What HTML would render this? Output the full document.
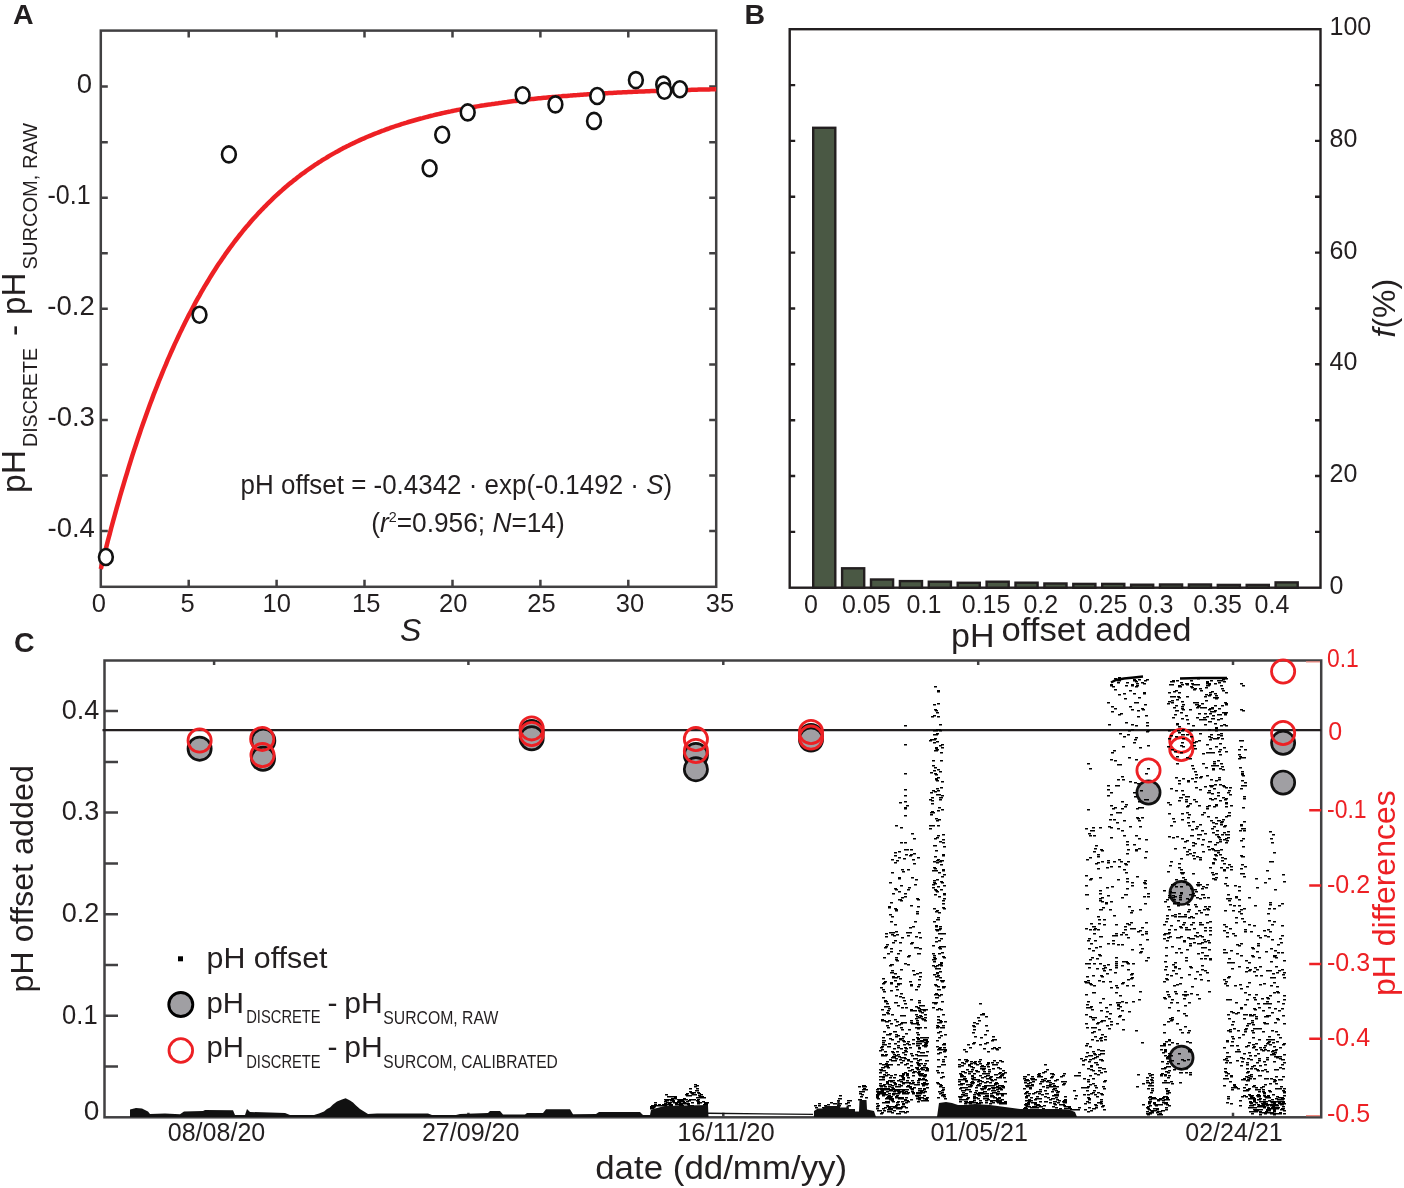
<!DOCTYPE html>
<html><head><meta charset="utf-8"><style>
html,body{margin:0;padding:0;background:#fff;}
svg{display:block;will-change:transform;}
text{font-family:"Liberation Sans", sans-serif;}
</style></head><body>
<svg width="1404" height="1188" viewBox="0 0 1404 1188">
<rect width="1404" height="1188" fill="#fff"/>
<g stroke="#414042" stroke-width="2.5" fill="none">
<rect x="100.8" y="30.6" width="615.4" height="556.2"/>
<path d="M188.7 586.8v-7M188.7 30.6v7M276.6 586.8v-7M276.6 30.6v7M364.5 586.8v-7M364.5 30.6v7M452.5 586.8v-7M452.5 30.6v7M540.4 586.8v-7M540.4 30.6v7M628.3 586.8v-7M628.3 30.6v7M100.8 86.6h7M716.2 86.6h-7M100.8 142.2h7M716.2 142.2h-7M100.8 197.7h7M716.2 197.7h-7M100.8 253.3h7M716.2 253.3h-7M100.8 308.8h7M716.2 308.8h-7M100.8 364.4h7M716.2 364.4h-7M100.8 419.9h7M716.2 419.9h-7M100.8 475.5h7M716.2 475.5h-7M100.8 531.0h7M716.2 531.0h-7"/>
</g>
<polyline points="100.8,569.0 102.6,561.9 104.3,554.8 106.1,547.9 107.8,541.0 109.6,534.3 111.3,527.7 113.1,521.2 114.9,514.7 116.6,508.4 118.4,502.1 120.1,496.0 121.9,489.9 123.7,483.9 125.4,478.1 127.2,472.3 128.9,466.6 130.7,460.9 132.4,455.4 134.2,449.9 136.0,444.5 137.7,439.2 139.5,434.0 141.2,428.9 143.0,423.8 144.8,418.8 146.5,413.9 148.3,409.0 150.0,404.3 151.8,399.6 153.5,394.9 155.3,390.4 157.1,385.9 158.8,381.4 160.6,377.1 162.3,372.8 164.1,368.5 165.9,364.4 167.6,360.2 169.4,356.2 171.1,352.2 172.9,348.3 174.6,344.4 176.4,340.6 178.2,336.8 179.9,333.1 181.7,329.5 183.4,325.9 185.2,322.3 187.0,318.8 188.7,315.4 190.5,312.0 192.2,308.7 194.0,305.4 195.7,302.1 197.5,298.9 199.3,295.8 201.0,292.7 202.8,289.6 204.5,286.6 206.3,283.7 208.1,280.8 209.8,277.9 211.6,275.0 213.3,272.3 215.1,269.5 216.8,266.8 218.6,264.1 220.4,261.5 222.1,258.9 223.9,256.4 225.6,253.8 227.4,251.4 229.2,248.9 230.9,246.5 232.7,244.2 234.4,241.8 236.2,239.5 237.9,237.3 239.7,235.0 241.5,232.8 243.2,230.7 245.0,228.5 246.7,226.4 248.5,224.4 250.3,222.3 252.0,220.3 253.8,218.3 255.5,216.4 257.3,214.5 259.0,212.6 260.8,210.7 262.6,208.9 264.3,207.0 266.1,205.3 267.8,203.5 269.6,201.8 271.4,200.1 273.1,198.4 274.9,196.7 276.6,195.1 278.4,193.5 280.1,191.9 281.9,190.4 283.7,188.8 285.4,187.3 287.2,185.8 288.9,184.3 290.7,182.9 292.5,181.5 294.2,180.1 296.0,178.7 297.7,177.3 299.5,176.0 301.2,174.6 303.0,173.3 304.8,172.1 306.5,170.8 308.3,169.5 310.0,168.3 311.8,167.1 313.6,165.9 315.3,164.7 317.1,163.6 318.8,162.4 320.6,161.3 322.3,160.2 324.1,159.1 325.9,158.1 327.6,157.0 329.4,155.9 331.1,154.9 332.9,153.9 334.7,152.9 336.4,151.9 338.2,151.0 339.9,150.0 341.7,149.1 343.4,148.1 345.2,147.2 347.0,146.3 348.7,145.5 350.5,144.6 352.2,143.7 354.0,142.9 355.8,142.0 357.5,141.2 359.3,140.4 361.0,139.6 362.8,138.8 364.5,138.1 366.3,137.3 368.1,136.5 369.8,135.8 371.6,135.1 373.3,134.4 375.1,133.7 376.9,133.0 378.6,132.3 380.4,131.6 382.1,130.9 383.9,130.3 385.6,129.6 387.4,129.0 389.2,128.4 390.9,127.7 392.7,127.1 394.4,126.5 396.2,125.9 398.0,125.4 399.7,124.8 401.5,124.2 403.2,123.7 405.0,123.1 406.7,122.6 408.5,122.0 410.3,121.5 412.0,121.0 413.8,120.5 415.5,120.0 417.3,119.5 419.0,119.0 420.8,118.5 422.6,118.1 424.3,117.6 426.1,117.1 427.8,116.7 429.6,116.2 431.4,115.8 433.1,115.4 434.9,114.9 436.6,114.5 438.4,114.1 440.1,113.7 441.9,113.3 443.7,112.9 445.4,112.5 447.2,112.1 448.9,111.7 450.7,111.4 452.5,111.0 454.2,110.6 456.0,110.3 457.7,109.9 459.5,109.6 461.2,109.3 463.0,108.9 464.8,108.6 466.5,108.3 468.3,107.9 470.0,107.6 471.8,107.3 473.6,107.0 475.3,106.7 477.1,106.4 478.8,106.1 480.6,105.8 482.3,105.5 484.1,105.3 485.9,105.0 487.6,104.7 489.4,104.4 491.1,104.2 492.9,103.9 494.7,103.7 496.4,103.4 498.2,103.2 499.9,102.9 501.7,102.7 503.4,102.4 505.2,102.2 507.0,102.0 508.7,101.7 510.5,101.5 512.2,101.3 514.0,101.1 515.8,100.9 517.5,100.7 519.3,100.4 521.0,100.2 522.8,100.0 524.5,99.8 526.3,99.6 528.1,99.4 529.8,99.3 531.6,99.1 533.3,98.9 535.1,98.7 536.9,98.5 538.6,98.3 540.4,98.2 542.1,98.0 543.9,97.8 545.6,97.7 547.4,97.5 549.2,97.3 550.9,97.2 552.7,97.0 554.4,96.9 556.2,96.7 558.0,96.6 559.7,96.4 561.5,96.3 563.2,96.1 565.0,96.0 566.7,95.9 568.5,95.7 570.3,95.6 572.0,95.4 573.8,95.3 575.5,95.2 577.3,95.1 579.1,94.9 580.8,94.8 582.6,94.7 584.3,94.6 586.1,94.5 587.8,94.3 589.6,94.2 591.4,94.1 593.1,94.0 594.9,93.9 596.6,93.8 598.4,93.7 600.2,93.6 601.9,93.5 603.7,93.4 605.4,93.3 607.2,93.2 608.9,93.1 610.7,93.0 612.5,92.9 614.2,92.8 616.0,92.7 617.7,92.6 619.5,92.5 621.3,92.4 623.0,92.3 624.8,92.3 626.5,92.2 628.3,92.1 630.0,92.0 631.8,91.9 633.6,91.8 635.3,91.8 637.1,91.7 638.8,91.6 640.6,91.5 642.4,91.5 644.1,91.4 645.9,91.3 647.6,91.3 649.4,91.2 651.1,91.1 652.9,91.1 654.7,91.0 656.4,90.9 658.2,90.9 659.9,90.8 661.7,90.7 663.5,90.7 665.2,90.6 667.0,90.6 668.7,90.5 670.5,90.4 672.2,90.4 674.0,90.3 675.8,90.3 677.5,90.2 679.3,90.2 681.0,90.1 682.8,90.1 684.6,90.0 686.3,90.0 688.1,89.9 689.8,89.9 691.6,89.8 693.3,89.8 695.1,89.7 696.9,89.7 698.6,89.6 700.4,89.6 702.1,89.5 703.9,89.5 705.7,89.4 707.4,89.4 709.2,89.4 710.9,89.3 712.7,89.3 714.4,89.2 716.2,89.2" fill="none" stroke="#ed2024" stroke-width="4.5"/>
<g fill="#fff" stroke="#111" stroke-width="2.6">
<ellipse cx="105.9" cy="557" rx="6.9" ry="8.0"/>
<ellipse cx="199.5" cy="314.8" rx="6.9" ry="8.0"/>
<ellipse cx="228.9" cy="154.4" rx="6.9" ry="8.0"/>
<ellipse cx="429.6" cy="168.3" rx="6.9" ry="8.0"/>
<ellipse cx="442.2" cy="134.8" rx="6.9" ry="8.0"/>
<ellipse cx="467.7" cy="112.4" rx="6.9" ry="8.0"/>
<ellipse cx="522.6" cy="95.3" rx="6.9" ry="8.0"/>
<ellipse cx="555.4" cy="104.4" rx="6.9" ry="8.0"/>
<ellipse cx="594" cy="120.9" rx="6.9" ry="8.0"/>
<ellipse cx="597.2" cy="96" rx="6.9" ry="8.0"/>
<ellipse cx="635.9" cy="80.1" rx="6.9" ry="8.0"/>
<ellipse cx="663.2" cy="84.6" rx="6.9" ry="8.0"/>
<ellipse cx="664.4" cy="90.8" rx="6.9" ry="8.0"/>
<ellipse cx="679.9" cy="89.2" rx="6.9" ry="8.0"/>
</g>
<g font-family='"Liberation Sans", sans-serif' fill="#231f20">
<text x="13" y="23.7" font-size="28.5" font-weight="bold" >A</text>
<text x="92.0" y="92.8" font-size="27.5" text-anchor="end" >0</text>
<text x="90.6" y="203.9" font-size="27.5" text-anchor="end" textLength="43.2" lengthAdjust="spacingAndGlyphs" >-0.1</text>
<text x="94.7" y="315.0" font-size="27.5" text-anchor="end" >-0.2</text>
<text x="94.9" y="426.1" font-size="27.5" text-anchor="end" >-0.3</text>
<text x="94.9" y="537.2" font-size="27.5" text-anchor="end" >-0.4</text>
<text x="98.9" y="612" font-size="25.5" text-anchor="middle" >0</text>
<text x="187.6" y="612" font-size="25.5" text-anchor="middle" >5</text>
<text x="276.8" y="612" font-size="25.5" text-anchor="middle" >10</text>
<text x="366.2" y="612" font-size="25.5" text-anchor="middle" >15</text>
<text x="453.2" y="612" font-size="25.5" text-anchor="middle" >20</text>
<text x="541.5" y="612" font-size="25.5" text-anchor="middle" >25</text>
<text x="629.9" y="612" font-size="25.5" text-anchor="middle" >30</text>
<text x="720" y="612" font-size="25.5" text-anchor="middle" >35</text>
<text x="400" y="640.5" font-size="32" font-style="italic" >S</text>
<text x="240.6" y="493.8" font-size="27.5" textLength="431.5" lengthAdjust="spacingAndGlyphs">pH offset = -0.4342 · exp(-0.1492 · <tspan font-style="italic">S</tspan>)</text>
<text x="371.2" y="532.2" font-size="27.5" textLength="193.5" lengthAdjust="spacingAndGlyphs">(<tspan font-style="italic">r</tspan><tspan font-size="15" dy="-10">2</tspan><tspan dy="10">=0.956; </tspan><tspan font-style="italic">N</tspan>=14)</text>
<g transform="translate(25.3,492) rotate(-90)">
<text x="-1" y="0" font-size="33.5" textLength="43" lengthAdjust="spacingAndGlyphs" >pH</text>
<text x="45" y="11.8" font-size="20" textLength="99" lengthAdjust="spacingAndGlyphs" >DISCRETE</text>
<text x="156" y="0" font-size="33.5" >-</text>
<text x="177" y="0" font-size="33.5" textLength="42.5" lengthAdjust="spacingAndGlyphs" >pH</text>
<text x="222.5" y="11.8" font-size="20" textLength="146.5" lengthAdjust="spacingAndGlyphs" >SURCOM, RAW</text>
</g>
</g>
<g stroke="#231f20" stroke-width="2.4" fill="none">
<rect x="789.7" y="29.2" width="530.8" height="558.5"/>
<path d="M789.7 531.9h5.5M1320.5 531.9h-5.5M789.7 476.0h5.5M1320.5 476.0h-5.5M789.7 420.2h5.5M1320.5 420.2h-5.5M789.7 364.3h5.5M1320.5 364.3h-5.5M789.7 308.5h5.5M1320.5 308.5h-5.5M789.7 252.6h5.5M1320.5 252.6h-5.5M789.7 196.8h5.5M1320.5 196.8h-5.5M789.7 140.9h5.5M1320.5 140.9h-5.5M789.7 85.1h5.5M1320.5 85.1h-5.5"/>
</g>
<g fill="#4a5844" stroke="#231f20" stroke-width="2.4">
<rect x="813.2" y="127.8" width="22.1" height="459.9"/>
<rect x="842.1" y="568.3" width="22.1" height="19.4"/>
<rect x="871.0" y="579.5" width="22.1" height="8.2"/>
<rect x="899.9" y="581.1" width="22.1" height="6.6"/>
<rect x="928.8" y="581.7" width="22.1" height="6.0"/>
<rect x="957.7" y="582.8" width="22.1" height="4.9"/>
<rect x="986.6" y="581.7" width="22.1" height="6.0"/>
<rect x="1015.5" y="582.7" width="22.1" height="5.0"/>
<rect x="1044.4" y="583.5" width="22.1" height="4.2"/>
<rect x="1073.3" y="583.9" width="22.1" height="3.8"/>
<rect x="1102.2" y="583.9" width="22.1" height="3.8"/>
<rect x="1131.1" y="584.7" width="22.1" height="3.0"/>
<rect x="1160.0" y="584.5" width="22.1" height="3.2"/>
<rect x="1188.9" y="584.5" width="22.1" height="3.2"/>
<rect x="1217.8" y="584.9" width="22.1" height="2.8"/>
<rect x="1246.7" y="584.9" width="22.1" height="2.8"/>
<rect x="1275.6" y="582.4" width="22.1" height="5.3"/>
</g>
<g font-family='"Liberation Sans", sans-serif' fill="#231f20">
<text x="744.5" y="24.2" font-size="28.5" font-weight="bold" >B</text>
<text x="1329.5" y="593.7" font-size="25" >0</text>
<text x="1329.5" y="482.0" font-size="25" >20</text>
<text x="1329.5" y="370.3" font-size="25" >40</text>
<text x="1329.5" y="258.6" font-size="25" >60</text>
<text x="1329.5" y="146.9" font-size="25" >80</text>
<text x="1329.5" y="35.2" font-size="25" >100</text>
<text x="810.9" y="612.5" font-size="25" text-anchor="middle" >0</text>
<text x="866.3" y="612.5" font-size="25" text-anchor="middle" >0.05</text>
<text x="924" y="612.5" font-size="25" text-anchor="middle" >0.1</text>
<text x="986" y="612.5" font-size="25" text-anchor="middle" >0.15</text>
<text x="1040.8" y="612.5" font-size="25" text-anchor="middle" >0.2</text>
<text x="1103" y="612.5" font-size="25" text-anchor="middle" >0.25</text>
<text x="1156" y="612.5" font-size="25" text-anchor="middle" >0.3</text>
<text x="1217.6" y="612.5" font-size="25" text-anchor="middle" >0.35</text>
<text x="1272" y="612.5" font-size="25" text-anchor="middle" >0.4</text>
<text x="951" y="647.2" font-size="34" >pH</text>
<text x="1001.5" y="641.2" font-size="34" textLength="190" lengthAdjust="spacingAndGlyphs" >offset added</text>
<g transform="translate(1394.5,337.5) rotate(-90)">
<text x="0" y="0" font-size="32"><tspan font-style="italic">f</tspan>(%)</text>
</g>
</g>
<g stroke="#414042" stroke-width="2.5" fill="none">
<rect x="104.5" y="660.5" width="1216.7" height="456.8"/>
<path d="M104.5 1066.5h13.5M104.5 1015.8h13.5M104.5 965.0h13.5M104.5 914.2h13.5M104.5 863.4h13.5M104.5 812.6h13.5M104.5 761.9h13.5M104.5 711.1h13.5M214.1 660.5v4.5M214.1 1117.3v-4.5M468.4 660.5v4.5M468.4 1117.3v-4.5M723.3 660.5v4.5M723.3 1117.3v-4.5M978.2 660.5v4.5M978.2 1117.3v-4.5M1233 660.5v4.5M1233 1117.3v-4.5"/>
</g>
<path d="M1321.2 810.2h-12M1321.2 885.5h-12M1321.2 963.9h-12M1321.2 1038.7h-12" stroke="#ed2024" stroke-width="2.5"/>
<path d="M1306 661.8H1320M1306 1115.6H1320" stroke="#f08a80" stroke-width="1.2"/>
<path d="M102.5 730.1H1321.2" stroke="#231f20" stroke-width="2.4"/>
<g fill="#a09fa3" stroke="#111" stroke-width="2.7">
<circle cx="199.6" cy="748.7" r="11.6"/>
<circle cx="263.3" cy="740.7" r="11.6"/>
<circle cx="263" cy="758.8" r="11.6"/>
<circle cx="531.7" cy="732" r="11.6"/>
<circle cx="531.7" cy="738.3" r="11.6"/>
<circle cx="695.9" cy="755" r="11.6"/>
<circle cx="695.9" cy="769.2" r="11.6"/>
<circle cx="811" cy="736" r="11.6"/>
<circle cx="811" cy="739.6" r="11.6"/>
<circle cx="1148.5" cy="792.5" r="11.6"/>
<circle cx="1181.5" cy="892.9" r="11.6"/>
<circle cx="1181.5" cy="1057.7" r="11.6"/>
<circle cx="1283.1" cy="742.8" r="11.6"/>
<circle cx="1283.1" cy="782.6" r="11.6"/>
</g>
<g fill="none" stroke="#ed2024" stroke-width="2.8">
<circle cx="199.6" cy="740.6" r="11.6"/>
<circle cx="262.2" cy="738.9" r="11.6"/>
<circle cx="262.5" cy="755.1" r="11.6"/>
<circle cx="531.7" cy="728.4" r="11.6"/>
<circle cx="531.7" cy="734" r="11.6"/>
<circle cx="695.9" cy="739.1" r="11.6"/>
<circle cx="695.9" cy="751" r="11.6"/>
<circle cx="811" cy="732" r="11.6"/>
<circle cx="811" cy="737.6" r="11.6"/>
<circle cx="1148.5" cy="770.5" r="11.6"/>
<circle cx="1181.3" cy="740.8" r="11.6"/>
<circle cx="1181.3" cy="749.1" r="11.6"/>
<circle cx="1283.1" cy="733" r="11.6"/>
<circle cx="1283.1" cy="671.5" r="11.6"/>
</g>
<path d="M668 1104h3v1.5h-3zM687 1104h3v1.5h-3zM680 1103h3v1.5h-3zM653 1106h3v1.5h-3zM652 1106h3v1.5h-3zM653 1105h3v1.5h-3zM674 1097h3v1.5h-3zM657 1105h3v1.5h-3zM685 1094h3v1.5h-3zM682 1103h3v1.5h-3zM705 1105h3v1.5h-3zM698 1102h3v1.5h-3zM658 1105h3v1.5h-3zM667 1096h3v1.5h-3zM660 1105h3v1.5h-3zM686 1101h3v1.5h-3zM681 1105h3v1.5h-3zM653 1105h3v1.5h-3zM688 1100h3v1.5h-3zM667 1099h3v1.5h-3zM675 1103h3v1.5h-3zM695 1090h3v1.5h-3zM663 1105h3v1.5h-3zM679 1100h3v1.5h-3zM691 1099h3v1.5h-3zM705 1105h3v1.5h-3zM673 1098h3v1.5h-3zM658 1105h3v1.5h-3zM652 1106h3v1.5h-3zM693 1092h3v1.5h-3zM699 1102h3v1.5h-3zM689 1095h3v1.5h-3zM683 1102h3v1.5h-3zM697 1092h3v1.5h-3zM677 1101h3v1.5h-3zM653 1106h3v1.5h-3zM686 1093h3v1.5h-3zM696 1100h3v1.5h-3zM671 1098h3v1.5h-3zM651 1107h3v1.5h-3zM659 1105h3v1.5h-3zM653 1106h3v1.5h-3zM657 1105h3v1.5h-3zM672 1096h3v1.5h-3zM654 1105h3v1.5h-3zM681 1100h3v1.5h-3zM696 1088h3v1.5h-3zM665 1100h3v1.5h-3zM670 1096h3v1.5h-3zM704 1105h3v1.5h-3zM660 1105h3v1.5h-3zM663 1105h3v1.5h-3zM683 1103h3v1.5h-3zM650 1107h3v1.5h-3zM671 1099h3v1.5h-3zM704 1102h3v1.5h-3zM679 1101h3v1.5h-3zM688 1105h3v1.5h-3zM701 1097h3v1.5h-3zM699 1096h3v1.5h-3zM672 1101h3v1.5h-3zM655 1105h3v1.5h-3zM653 1105h3v1.5h-3zM661 1105h3v1.5h-3zM669 1105h3v1.5h-3zM650 1106h3v1.5h-3zM655 1105h3v1.5h-3zM651 1107h3v1.5h-3zM685 1103h3v1.5h-3zM664 1103h3v1.5h-3zM670 1104h3v1.5h-3zM698 1093h3v1.5h-3zM676 1102h3v1.5h-3zM654 1105h3v1.5h-3zM669 1102h3v1.5h-3zM697 1102h3v1.5h-3zM651 1108h3v1.5h-3zM680 1104h3v1.5h-3zM680 1105h3v1.5h-3zM680 1099h3v1.5h-3zM699 1097h3v1.5h-3zM664 1101h3v1.5h-3zM659 1105h3v1.5h-3zM680 1100h3v1.5h-3zM668 1103h3v1.5h-3zM696 1085h3v1.5h-3zM698 1095h3v1.5h-3zM696 1090h3v1.5h-3zM662 1105h3v1.5h-3zM670 1105h3v1.5h-3zM651 1106h3v1.5h-3zM664 1099h3v1.5h-3zM704 1103h3v1.5h-3zM703 1097h3v1.5h-3zM704 1104h3v1.5h-3zM662 1105h3v1.5h-3zM661 1105h3v1.5h-3zM685 1094h3v1.5h-3zM697 1099h3v1.5h-3zM687 1095h3v1.5h-3zM654 1105h3v1.5h-3zM701 1097h3v1.5h-3zM692 1094h3v1.5h-3zM660 1105h3v1.5h-3zM668 1096h3v1.5h-3zM705 1104h3v1.5h-3zM672 1096h3v1.5h-3zM691 1102h3v1.5h-3zM657 1105h3v1.5h-3zM701 1096h3v1.5h-3zM658 1105h3v1.5h-3zM705 1103h3v1.5h-3zM669 1099h3v1.5h-3zM657 1105h3v1.5h-3zM705 1102h3v1.5h-3zM680 1099h3v1.5h-3zM674 1098h3v1.5h-3zM697 1101h3v1.5h-3zM664 1104h3v1.5h-3zM663 1105h3v1.5h-3zM664 1101h3v1.5h-3zM657 1105h3v1.5h-3zM670 1100h3v1.5h-3zM683 1098h3v1.5h-3zM673 1096h3v1.5h-3zM678 1102h3v1.5h-3zM679 1105h3v1.5h-3zM675 1104h3v1.5h-3zM650 1108h3v1.5h-3zM659 1105h3v1.5h-3zM691 1093h3v1.5h-3zM668 1099h3v1.5h-3zM681 1100h3v1.5h-3zM656 1105h3v1.5h-3zM664 1104h3v1.5h-3zM694 1094h3v1.5h-3zM682 1101h3v1.5h-3zM702 1101h3v1.5h-3zM684 1099h3v1.5h-3zM679 1101h3v1.5h-3zM675 1102h3v1.5h-3zM677 1099h3v1.5h-3zM689 1088h3v1.5h-3zM703 1104h3v1.5h-3zM681 1099h3v1.5h-3zM697 1103h3v1.5h-3zM656 1105h3v1.5h-3zM654 1105h3v1.5h-3zM654 1105h3v1.5h-3zM694 1086h3v1.5h-3zM658 1105h3v1.5h-3zM687 1103h3v1.5h-3zM700 1094h3v1.5h-3zM662 1104h3v1.5h-3zM672 1100h3v1.5h-3zM706 1102h3v1.5h-3zM659 1105h3v1.5h-3zM679 1103h3v1.5h-3zM661 1105h3v1.5h-3zM691 1105h3v1.5h-3zM681 1103h3v1.5h-3zM651 1106h3v1.5h-3zM685 1099h3v1.5h-3zM653 1106h3v1.5h-3zM694 1084h3v1.5h-3zM655 1105h3v1.5h-3zM652 1107h3v1.5h-3zM665 1104h3v1.5h-3zM674 1096h3v1.5h-3zM696 1100h3v1.5h-3zM658 1105h3v1.5h-3zM682 1101h3v1.5h-3zM655 1105h3v1.5h-3zM689 1099h3v1.5h-3zM654 1105h3v1.5h-3zM686 1095h3v1.5h-3zM654 1105h3v1.5h-3zM653 1105h3v1.5h-3zM675 1103h3v1.5h-3zM681 1100h3v1.5h-3zM665 1104h3v1.5h-3zM680 1104h3v1.5h-3zM656 1105h3v1.5h-3zM652 1105h3v1.5h-3zM667 1102h3v1.5h-3zM693 1099h3v1.5h-3zM678 1104h3v1.5h-3zM669 1105h3v1.5h-3zM664 1105h3v1.5h-3zM691 1093h3v1.5h-3zM660 1105h3v1.5h-3zM703 1104h3v1.5h-3zM696 1097h3v1.5h-3zM678 1100h3v1.5h-3zM672 1100h3v1.5h-3zM689 1091h3v1.5h-3zM669 1096h3v1.5h-3zM690 1092h3v1.5h-3zM673 1102h3v1.5h-3zM653 1105h3v1.5h-3zM654 1105h3v1.5h-3zM664 1104h3v1.5h-3zM654 1105h3v1.5h-3zM699 1097h3v1.5h-3zM666 1102h3v1.5h-3zM666 1100h3v1.5h-3zM658 1105h3v1.5h-3zM665 1094h3v1.5h-3zM705 1103h3v1.5h-3zM654 1102h3v1.5h-3zM655 1105h3v1.5h-3zM651 1105h3v1.5h-3zM658 1104h3v1.5h-3zM654 1104h3v1.5h-3zM651 1105h3v1.5h-3zM652 1105h3v1.5h-3zM858 1099h3v1.5h-3zM860 1096h3v1.5h-3zM862 1091h3v1.5h-3zM864 1089h3v1.5h-3zM863 1085h3v1.5h-3zM861 1094h3v1.5h-3zM865 1097h3v1.5h-3zM863 1089h3v1.5h-3zM858 1086h3v1.5h-3zM865 1089h3v1.5h-3zM863 1086h3v1.5h-3zM859 1091h3v1.5h-3zM862 1086h3v1.5h-3zM864 1086h3v1.5h-3zM862 1085h3v1.5h-3zM863 1088h3v1.5h-3zM859 1099h3v1.5h-3zM859 1093h3v1.5h-3zM858 1086h3v1.5h-3zM862 1089h3v1.5h-3zM838 1098h3v1.5h-3zM837 1105h3v1.5h-3zM839 1098h3v1.5h-3zM837 1100h3v1.5h-3zM838 1105h3v1.5h-3zM839 1103h3v1.5h-3zM834 1103h3v1.5h-3zM839 1103h3v1.5h-3zM839 1095h3v1.5h-3zM847 1102h3v1.5h-3zM847 1100h3v1.5h-3zM849 1100h3v1.5h-3zM848 1105h3v1.5h-3zM845 1103h3v1.5h-3zM828 1106h3v1.5h-3zM825 1108h3v1.5h-3zM815 1107h3v1.5h-3zM827 1104h3v1.5h-3zM827 1107h3v1.5h-3zM824 1105h3v1.5h-3zM823 1108h3v1.5h-3zM831 1107h3v1.5h-3zM833 1103h3v1.5h-3zM814 1105h3v1.5h-3zM830 1102h3v1.5h-3zM822 1107h3v1.5h-3zM818 1103h3v1.5h-3zM818 1105h3v1.5h-3zM904 725h3v1.5h-3zM904 744h3v1.5h-3zM904 773h3v1.5h-3zM904 789h3v1.5h-3zM904 795h3v1.5h-3zM904 801h3v1.5h-3zM904 807h3v1.5h-3zM904 815h3v1.5h-3zM904 842h3v1.5h-3zM899 802h3v1.5h-3zM904 808h3v1.5h-3zM906 805h3v1.5h-3zM913 838h3v1.5h-3zM895 825h3v1.5h-3zM904 849h3v1.5h-3zM900 827h3v1.5h-3zM900 842h3v1.5h-3zM911 833h3v1.5h-3zM910 849h3v1.5h-3zM894 862h3v1.5h-3zM909 855h3v1.5h-3zM898 857h3v1.5h-3zM899 899h3v1.5h-3zM906 849h3v1.5h-3zM900 900h3v1.5h-3zM888 907h3v1.5h-3zM914 921h3v1.5h-3zM917 906h3v1.5h-3zM895 909h3v1.5h-3zM894 888h3v1.5h-3zM917 899h3v1.5h-3zM912 859h3v1.5h-3zM915 879h3v1.5h-3zM905 854h3v1.5h-3zM891 872h3v1.5h-3zM902 871h3v1.5h-3zM907 869h3v1.5h-3zM888 906h3v1.5h-3zM894 855h3v1.5h-3zM898 891h3v1.5h-3zM910 905h3v1.5h-3zM898 851h3v1.5h-3zM898 877h3v1.5h-3zM900 885h3v1.5h-3zM891 916h3v1.5h-3zM916 913h3v1.5h-3zM895 889h3v1.5h-3zM917 857h3v1.5h-3zM892 893h3v1.5h-3zM889 914h3v1.5h-3zM890 902h3v1.5h-3zM895 910h3v1.5h-3zM914 884h3v1.5h-3zM901 869h3v1.5h-3zM904 896h3v1.5h-3zM898 899h3v1.5h-3zM894 924h3v1.5h-3zM894 852h3v1.5h-3zM907 889h3v1.5h-3zM896 860h3v1.5h-3zM894 908h3v1.5h-3zM901 897h3v1.5h-3zM913 853h3v1.5h-3zM891 859h3v1.5h-3zM909 927h3v1.5h-3zM903 858h3v1.5h-3zM889 882h3v1.5h-3zM916 898h3v1.5h-3zM913 863h3v1.5h-3zM898 851h3v1.5h-3zM890 921h3v1.5h-3zM908 887h3v1.5h-3zM910 854h3v1.5h-3zM911 877h3v1.5h-3zM904 893h3v1.5h-3zM912 926h3v1.5h-3zM916 911h3v1.5h-3zM898 878h3v1.5h-3zM890 990h3v1.5h-3zM908 955h3v1.5h-3zM883 991h3v1.5h-3zM904 963h3v1.5h-3zM890 972h3v1.5h-3zM883 957h3v1.5h-3zM899 978h3v1.5h-3zM907 932h3v1.5h-3zM901 937h3v1.5h-3zM890 983h3v1.5h-3zM909 932h3v1.5h-3zM882 978h3v1.5h-3zM907 964h3v1.5h-3zM891 970h3v1.5h-3zM917 953h3v1.5h-3zM882 983h3v1.5h-3zM897 976h3v1.5h-3zM890 951h3v1.5h-3zM910 943h3v1.5h-3zM890 964h3v1.5h-3zM895 931h3v1.5h-3zM892 942h3v1.5h-3zM910 984h3v1.5h-3zM918 979h3v1.5h-3zM889 965h3v1.5h-3zM897 984h3v1.5h-3zM918 953h3v1.5h-3zM896 989h3v1.5h-3zM918 984h3v1.5h-3zM882 989h3v1.5h-3zM895 995h3v1.5h-3zM915 936h3v1.5h-3zM919 948h3v1.5h-3zM896 934h3v1.5h-3zM917 986h3v1.5h-3zM884 947h3v1.5h-3zM897 953h3v1.5h-3zM894 973h3v1.5h-3zM880 987h3v1.5h-3zM894 980h3v1.5h-3zM889 932h3v1.5h-3zM892 932h3v1.5h-3zM913 974h3v1.5h-3zM899 942h3v1.5h-3zM899 996h3v1.5h-3zM916 973h3v1.5h-3zM895 986h3v1.5h-3zM885 936h3v1.5h-3zM912 970h3v1.5h-3zM885 946h3v1.5h-3zM882 997h3v1.5h-3zM893 935h3v1.5h-3zM916 947h3v1.5h-3zM892 976h3v1.5h-3zM906 932h3v1.5h-3zM909 981h3v1.5h-3zM892 977h3v1.5h-3zM910 999h3v1.5h-3zM907 935h3v1.5h-3zM885 933h3v1.5h-3zM899 983h3v1.5h-3zM918 932h3v1.5h-3zM891 972h3v1.5h-3zM900 969h3v1.5h-3zM891 934h3v1.5h-3zM910 943h3v1.5h-3zM911 942h3v1.5h-3zM895 957h3v1.5h-3zM895 977h3v1.5h-3zM886 944h3v1.5h-3zM910 985h3v1.5h-3zM883 982h3v1.5h-3zM902 997h3v1.5h-3zM919 976h3v1.5h-3zM919 937h3v1.5h-3zM884 981h3v1.5h-3zM900 993h3v1.5h-3zM899 950h3v1.5h-3zM897 983h3v1.5h-3zM907 956h3v1.5h-3zM914 947h3v1.5h-3zM887 953h3v1.5h-3zM894 940h3v1.5h-3zM896 960h3v1.5h-3zM890 948h3v1.5h-3zM890 982h3v1.5h-3zM915 989h3v1.5h-3zM895 959h3v1.5h-3zM919 972h3v1.5h-3zM891 964h3v1.5h-3zM905 1007h3v1.5h-3zM884 1000h3v1.5h-3zM910 1020h3v1.5h-3zM915 1006h3v1.5h-3zM889 1038h3v1.5h-3zM886 1034h3v1.5h-3zM903 1000h3v1.5h-3zM894 1002h3v1.5h-3zM897 1005h3v1.5h-3zM908 1029h3v1.5h-3zM884 1001h3v1.5h-3zM903 1015h3v1.5h-3zM893 1031h3v1.5h-3zM886 1034h3v1.5h-3zM901 1029h3v1.5h-3zM887 1013h3v1.5h-3zM891 1039h3v1.5h-3zM886 1012h3v1.5h-3zM887 1027h3v1.5h-3zM901 1007h3v1.5h-3zM882 1037h3v1.5h-3zM900 1023h3v1.5h-3zM883 1014h3v1.5h-3zM905 1033h3v1.5h-3zM890 1023h3v1.5h-3zM915 1027h3v1.5h-3zM900 1027h3v1.5h-3zM895 1025h3v1.5h-3zM919 1005h3v1.5h-3zM886 1025h3v1.5h-3zM887 1010h3v1.5h-3zM912 1039h3v1.5h-3zM910 1022h3v1.5h-3zM913 1023h3v1.5h-3zM885 1021h3v1.5h-3zM899 1039h3v1.5h-3zM915 1014h3v1.5h-3zM902 1036h3v1.5h-3zM898 1024h3v1.5h-3zM889 1033h3v1.5h-3zM915 1018h3v1.5h-3zM897 1035h3v1.5h-3zM917 1007h3v1.5h-3zM883 1031h3v1.5h-3zM918 1002h3v1.5h-3zM881 1020h3v1.5h-3zM895 1002h3v1.5h-3zM904 1003h3v1.5h-3zM886 1006h3v1.5h-3zM888 1008h3v1.5h-3zM911 1023h3v1.5h-3zM887 1006h3v1.5h-3zM894 1031h3v1.5h-3zM894 1019h3v1.5h-3zM888 1034h3v1.5h-3zM914 1010h3v1.5h-3zM899 1038h3v1.5h-3zM881 1009h3v1.5h-3zM884 1006h3v1.5h-3zM900 1015h3v1.5h-3zM891 1014h3v1.5h-3zM901 1022h3v1.5h-3zM904 1022h3v1.5h-3zM896 1021h3v1.5h-3zM901 1038h3v1.5h-3zM888 1020h3v1.5h-3zM910 1009h3v1.5h-3zM886 1021h3v1.5h-3zM883 1020h3v1.5h-3zM895 1034h3v1.5h-3zM895 1036h3v1.5h-3zM881 1019h3v1.5h-3zM882 1014h3v1.5h-3zM910 1010h3v1.5h-3zM881 1019h3v1.5h-3zM894 1019h3v1.5h-3zM885 1001h3v1.5h-3zM919 1005h3v1.5h-3zM911 1010h3v1.5h-3zM916 1032h3v1.5h-3zM916 1020h3v1.5h-3zM886 1003h3v1.5h-3zM908 1044h3v1.5h-3zM881 1079h3v1.5h-3zM906 1086h3v1.5h-3zM912 1082h3v1.5h-3zM909 1087h3v1.5h-3zM897 1045h3v1.5h-3zM886 1083h3v1.5h-3zM897 1080h3v1.5h-3zM880 1085h3v1.5h-3zM884 1044h3v1.5h-3zM904 1047h3v1.5h-3zM885 1054h3v1.5h-3zM883 1070h3v1.5h-3zM902 1078h3v1.5h-3zM911 1069h3v1.5h-3zM900 1048h3v1.5h-3zM882 1040h3v1.5h-3zM902 1077h3v1.5h-3zM908 1082h3v1.5h-3zM915 1067h3v1.5h-3zM892 1056h3v1.5h-3zM895 1086h3v1.5h-3zM906 1089h3v1.5h-3zM909 1083h3v1.5h-3zM902 1040h3v1.5h-3zM900 1062h3v1.5h-3zM890 1089h3v1.5h-3zM880 1086h3v1.5h-3zM901 1075h3v1.5h-3zM897 1047h3v1.5h-3zM883 1084h3v1.5h-3zM903 1089h3v1.5h-3zM879 1079h3v1.5h-3zM882 1079h3v1.5h-3zM887 1067h3v1.5h-3zM900 1085h3v1.5h-3zM902 1073h3v1.5h-3zM883 1044h3v1.5h-3zM888 1086h3v1.5h-3zM882 1064h3v1.5h-3zM911 1055h3v1.5h-3zM893 1082h3v1.5h-3zM879 1063h3v1.5h-3zM899 1079h3v1.5h-3zM902 1074h3v1.5h-3zM913 1058h3v1.5h-3zM888 1046h3v1.5h-3zM880 1070h3v1.5h-3zM894 1083h3v1.5h-3zM881 1055h3v1.5h-3zM879 1069h3v1.5h-3zM913 1087h3v1.5h-3zM886 1066h3v1.5h-3zM897 1064h3v1.5h-3zM909 1086h3v1.5h-3zM890 1081h3v1.5h-3zM880 1047h3v1.5h-3zM907 1059h3v1.5h-3zM879 1050h3v1.5h-3zM906 1073h3v1.5h-3zM906 1074h3v1.5h-3zM887 1088h3v1.5h-3zM887 1089h3v1.5h-3zM891 1057h3v1.5h-3zM904 1050h3v1.5h-3zM905 1082h3v1.5h-3zM899 1075h3v1.5h-3zM908 1070h3v1.5h-3zM888 1064h3v1.5h-3zM914 1084h3v1.5h-3zM911 1089h3v1.5h-3zM888 1084h3v1.5h-3zM906 1043h3v1.5h-3zM906 1080h3v1.5h-3zM911 1080h3v1.5h-3zM887 1046h3v1.5h-3zM902 1060h3v1.5h-3zM903 1041h3v1.5h-3zM896 1051h3v1.5h-3zM904 1050h3v1.5h-3zM895 1058h3v1.5h-3zM900 1081h3v1.5h-3zM886 1065h3v1.5h-3zM881 1046h3v1.5h-3zM884 1089h3v1.5h-3zM882 1044h3v1.5h-3zM891 1087h3v1.5h-3zM880 1089h3v1.5h-3zM904 1064h3v1.5h-3zM904 1058h3v1.5h-3zM881 1067h3v1.5h-3zM892 1052h3v1.5h-3zM909 1047h3v1.5h-3zM881 1049h3v1.5h-3zM912 1043h3v1.5h-3zM882 1085h3v1.5h-3zM883 1089h3v1.5h-3zM910 1053h3v1.5h-3zM902 1052h3v1.5h-3zM902 1082h3v1.5h-3zM882 1088h3v1.5h-3zM907 1085h3v1.5h-3zM890 1075h3v1.5h-3zM879 1083h3v1.5h-3zM889 1059h3v1.5h-3zM892 1080h3v1.5h-3zM914 1071h3v1.5h-3zM910 1065h3v1.5h-3zM880 1076h3v1.5h-3zM895 1055h3v1.5h-3zM891 1060h3v1.5h-3zM898 1084h3v1.5h-3zM910 1088h3v1.5h-3zM909 1086h3v1.5h-3zM879 1085h3v1.5h-3zM907 1041h3v1.5h-3zM879 1072h3v1.5h-3zM897 1054h3v1.5h-3zM885 1072h3v1.5h-3zM891 1051h3v1.5h-3zM888 1043h3v1.5h-3zM889 1084h3v1.5h-3zM904 1072h3v1.5h-3zM883 1064h3v1.5h-3zM881 1054h3v1.5h-3zM904 1054h3v1.5h-3zM902 1079h3v1.5h-3zM893 1077h3v1.5h-3zM911 1088h3v1.5h-3zM911 1089h3v1.5h-3zM886 1082h3v1.5h-3zM912 1072h3v1.5h-3zM893 1048h3v1.5h-3zM887 1074h3v1.5h-3zM898 1056h3v1.5h-3zM906 1063h3v1.5h-3zM891 1080h3v1.5h-3zM884 1051h3v1.5h-3zM903 1057h3v1.5h-3zM885 1075h3v1.5h-3zM907 1067h3v1.5h-3zM883 1074h3v1.5h-3zM911 1083h3v1.5h-3zM886 1081h3v1.5h-3zM905 1051h3v1.5h-3zM884 1086h3v1.5h-3zM888 1080h3v1.5h-3zM898 1086h3v1.5h-3zM891 1085h3v1.5h-3zM915 1058h3v1.5h-3zM882 1042h3v1.5h-3zM882 1077h3v1.5h-3zM915 1054h3v1.5h-3zM906 1075h3v1.5h-3zM886 1064h3v1.5h-3zM882 1085h3v1.5h-3zM893 1089h3v1.5h-3zM893 1054h3v1.5h-3zM904 1072h3v1.5h-3zM902 1073h3v1.5h-3zM884 1066h3v1.5h-3zM893 1057h3v1.5h-3zM912 1075h3v1.5h-3zM900 1057h3v1.5h-3zM894 1084h3v1.5h-3zM905 1048h3v1.5h-3zM907 1060h3v1.5h-3zM910 1061h3v1.5h-3zM902 1074h3v1.5h-3zM890 1064h3v1.5h-3zM882 1076h3v1.5h-3zM907 1059h3v1.5h-3zM902 1083h3v1.5h-3zM894 1074h3v1.5h-3zM901 1076h3v1.5h-3zM903 1044h3v1.5h-3zM885 1063h3v1.5h-3zM907 1077h3v1.5h-3zM897 1041h3v1.5h-3zM880 1069h3v1.5h-3zM884 1055h3v1.5h-3zM913 1071h3v1.5h-3zM882 1067h3v1.5h-3zM899 1059h3v1.5h-3zM897 1064h3v1.5h-3zM909 1070h3v1.5h-3zM894 1043h3v1.5h-3zM886 1061h3v1.5h-3zM893 1056h3v1.5h-3zM883 1040h3v1.5h-3zM892 1089h3v1.5h-3zM889 1077h3v1.5h-3zM879 1076h3v1.5h-3zM894 1060h3v1.5h-3zM887 1106h3v1.5h-3zM883 1094h3v1.5h-3zM906 1100h3v1.5h-3zM883 1092h3v1.5h-3zM888 1108h3v1.5h-3zM880 1093h3v1.5h-3zM901 1097h3v1.5h-3zM891 1099h3v1.5h-3zM883 1088h3v1.5h-3zM887 1097h3v1.5h-3zM902 1092h3v1.5h-3zM890 1106h3v1.5h-3zM893 1110h3v1.5h-3zM902 1104h3v1.5h-3zM903 1106h3v1.5h-3zM888 1107h3v1.5h-3zM889 1108h3v1.5h-3zM876 1094h3v1.5h-3zM884 1107h3v1.5h-3zM885 1101h3v1.5h-3zM889 1097h3v1.5h-3zM897 1104h3v1.5h-3zM905 1091h3v1.5h-3zM877 1092h3v1.5h-3zM904 1093h3v1.5h-3zM880 1092h3v1.5h-3zM896 1113h3v1.5h-3zM876 1089h3v1.5h-3zM896 1107h3v1.5h-3zM879 1110h3v1.5h-3zM883 1093h3v1.5h-3zM887 1109h3v1.5h-3zM904 1093h3v1.5h-3zM881 1090h3v1.5h-3zM895 1093h3v1.5h-3zM897 1090h3v1.5h-3zM901 1091h3v1.5h-3zM882 1095h3v1.5h-3zM892 1094h3v1.5h-3zM890 1090h3v1.5h-3zM893 1106h3v1.5h-3zM883 1110h3v1.5h-3zM891 1112h3v1.5h-3zM890 1109h3v1.5h-3zM891 1100h3v1.5h-3zM893 1091h3v1.5h-3zM876 1091h3v1.5h-3zM890 1099h3v1.5h-3zM897 1091h3v1.5h-3zM887 1102h3v1.5h-3zM906 1111h3v1.5h-3zM896 1097h3v1.5h-3zM876 1097h3v1.5h-3zM897 1089h3v1.5h-3zM886 1088h3v1.5h-3zM892 1101h3v1.5h-3zM904 1112h3v1.5h-3zM898 1097h3v1.5h-3zM886 1091h3v1.5h-3zM887 1101h3v1.5h-3zM892 1093h3v1.5h-3zM882 1102h3v1.5h-3zM889 1099h3v1.5h-3zM902 1106h3v1.5h-3zM902 1103h3v1.5h-3zM892 1106h3v1.5h-3zM892 1088h3v1.5h-3zM896 1093h3v1.5h-3zM886 1105h3v1.5h-3zM885 1098h3v1.5h-3zM896 1093h3v1.5h-3zM877 1094h3v1.5h-3zM904 1099h3v1.5h-3zM877 1105h3v1.5h-3zM876 1108h3v1.5h-3zM905 1097h3v1.5h-3zM897 1093h3v1.5h-3zM905 1097h3v1.5h-3zM895 1097h3v1.5h-3zM898 1098h3v1.5h-3zM897 1108h3v1.5h-3zM897 1101h3v1.5h-3zM900 1111h3v1.5h-3zM881 1112h3v1.5h-3zM900 1089h3v1.5h-3zM896 1104h3v1.5h-3zM902 1093h3v1.5h-3zM893 1107h3v1.5h-3zM885 1102h3v1.5h-3zM886 1102h3v1.5h-3zM896 1089h3v1.5h-3zM877 1098h3v1.5h-3zM877 1110h3v1.5h-3zM901 1098h3v1.5h-3zM905 1102h3v1.5h-3zM876 1103h3v1.5h-3zM894 1089h3v1.5h-3zM907 1101h3v1.5h-3zM889 1111h3v1.5h-3zM896 1108h3v1.5h-3zM880 1113h3v1.5h-3zM876 1095h3v1.5h-3zM879 1088h3v1.5h-3zM878 1091h3v1.5h-3zM880 1113h3v1.5h-3zM899 1107h3v1.5h-3zM899 1108h3v1.5h-3zM877 1093h3v1.5h-3zM898 1091h3v1.5h-3zM899 1111h3v1.5h-3zM896 1095h3v1.5h-3zM890 1089h3v1.5h-3zM884 1088h3v1.5h-3zM898 1113h3v1.5h-3zM876 1096h3v1.5h-3zM902 1111h3v1.5h-3zM885 1094h3v1.5h-3zM881 1091h3v1.5h-3zM891 1112h3v1.5h-3zM887 1098h3v1.5h-3zM890 1096h3v1.5h-3zM880 1093h3v1.5h-3zM887 1096h3v1.5h-3zM896 1102h3v1.5h-3zM888 1093h3v1.5h-3zM906 1093h3v1.5h-3zM894 1106h3v1.5h-3zM877 1088h3v1.5h-3zM898 1092h3v1.5h-3zM886 1097h3v1.5h-3zM907 1092h3v1.5h-3zM895 1105h3v1.5h-3zM889 1090h3v1.5h-3zM888 1095h3v1.5h-3zM895 1090h3v1.5h-3zM901 1106h3v1.5h-3zM876 1106h3v1.5h-3zM889 1098h3v1.5h-3zM902 1090h3v1.5h-3zM877 1092h3v1.5h-3zM901 1091h3v1.5h-3zM894 1106h3v1.5h-3zM903 1092h3v1.5h-3zM897 1089h3v1.5h-3zM887 1111h3v1.5h-3zM893 1093h3v1.5h-3zM882 1094h3v1.5h-3zM905 1107h3v1.5h-3zM895 1096h3v1.5h-3zM890 1108h3v1.5h-3zM884 1094h3v1.5h-3zM901 1101h3v1.5h-3zM878 1092h3v1.5h-3zM900 1107h3v1.5h-3zM894 1090h3v1.5h-3zM904 1100h3v1.5h-3zM891 1098h3v1.5h-3zM882 1108h3v1.5h-3zM911 1091h3v1.5h-3zM912 1092h3v1.5h-3zM912 1093h3v1.5h-3zM910 1099h3v1.5h-3zM915 1095h3v1.5h-3zM917 1060h3v1.5h-3zM924 1091h3v1.5h-3zM922 1079h3v1.5h-3zM921 1100h3v1.5h-3zM916 1037h3v1.5h-3zM925 1070h3v1.5h-3zM922 1084h3v1.5h-3zM924 1074h3v1.5h-3zM926 1051h3v1.5h-3zM925 1039h3v1.5h-3zM918 1099h3v1.5h-3zM918 1090h3v1.5h-3zM916 1098h3v1.5h-3zM922 1045h3v1.5h-3zM921 1040h3v1.5h-3zM926 1097h3v1.5h-3zM922 1075h3v1.5h-3zM917 1039h3v1.5h-3zM918 1065h3v1.5h-3zM923 1039h3v1.5h-3zM923 1076h3v1.5h-3zM920 1091h3v1.5h-3zM926 1037h3v1.5h-3zM918 1099h3v1.5h-3zM918 1078h3v1.5h-3zM925 1042h3v1.5h-3zM925 1098h3v1.5h-3zM924 1055h3v1.5h-3zM923 1037h3v1.5h-3zM916 1092h3v1.5h-3zM924 1040h3v1.5h-3zM923 1082h3v1.5h-3zM922 1052h3v1.5h-3zM917 1080h3v1.5h-3zM918 1093h3v1.5h-3zM921 1090h3v1.5h-3zM918 1092h3v1.5h-3zM923 1100h3v1.5h-3zM923 1089h3v1.5h-3zM916 1041h3v1.5h-3zM918 1041h3v1.5h-3zM925 1043h3v1.5h-3zM917 1072h3v1.5h-3zM917 1041h3v1.5h-3zM925 1060h3v1.5h-3zM920 1079h3v1.5h-3zM925 1070h3v1.5h-3zM922 1092h3v1.5h-3zM918 1098h3v1.5h-3zM923 1065h3v1.5h-3zM917 1045h3v1.5h-3zM918 1074h3v1.5h-3zM917 1084h3v1.5h-3zM925 1080h3v1.5h-3zM917 1069h3v1.5h-3zM919 1043h3v1.5h-3zM917 1038h3v1.5h-3zM916 1043h3v1.5h-3zM923 1088h3v1.5h-3zM921 1083h3v1.5h-3zM918 1088h3v1.5h-3zM920 1037h3v1.5h-3zM926 1041h3v1.5h-3zM917 1082h3v1.5h-3zM925 1098h3v1.5h-3zM923 1082h3v1.5h-3zM926 1100h3v1.5h-3zM924 1079h3v1.5h-3zM917 1101h3v1.5h-3zM925 1067h3v1.5h-3zM918 1073h3v1.5h-3zM926 1087h3v1.5h-3zM922 1092h3v1.5h-3zM917 1051h3v1.5h-3zM923 1088h3v1.5h-3zM916 1096h3v1.5h-3zM922 1069h3v1.5h-3zM919 1088h3v1.5h-3zM922 1055h3v1.5h-3zM924 1063h3v1.5h-3zM918 1097h3v1.5h-3zM924 1075h3v1.5h-3zM923 1098h3v1.5h-3zM924 1079h3v1.5h-3zM925 1045h3v1.5h-3zM921 1100h3v1.5h-3zM926 1070h3v1.5h-3zM925 1084h3v1.5h-3zM918 1047h3v1.5h-3zM920 1091h3v1.5h-3zM920 1063h3v1.5h-3zM916 1067h3v1.5h-3zM920 1068h3v1.5h-3zM917 1055h3v1.5h-3zM924 1045h3v1.5h-3zM919 1055h3v1.5h-3zM920 1052h3v1.5h-3zM916 1045h3v1.5h-3zM926 1069h3v1.5h-3zM921 1067h3v1.5h-3zM921 1100h3v1.5h-3zM926 1087h3v1.5h-3zM918 1095h3v1.5h-3zM918 1048h3v1.5h-3zM916 1095h3v1.5h-3zM923 1089h3v1.5h-3zM916 1062h3v1.5h-3zM922 1067h3v1.5h-3zM923 1095h3v1.5h-3zM925 1055h3v1.5h-3zM916 1093h3v1.5h-3zM921 1069h3v1.5h-3zM919 1093h3v1.5h-3zM920 1092h3v1.5h-3zM922 1045h3v1.5h-3zM917 1064h3v1.5h-3zM924 1091h3v1.5h-3zM925 1040h3v1.5h-3zM920 1074h3v1.5h-3zM925 1067h3v1.5h-3zM920 1040h3v1.5h-3zM924 1079h3v1.5h-3zM918 1079h3v1.5h-3zM920 1037h3v1.5h-3zM924 1042h3v1.5h-3zM924 1046h3v1.5h-3zM916 1068h3v1.5h-3zM926 1041h3v1.5h-3zM918 1074h3v1.5h-3zM922 1078h3v1.5h-3zM921 1097h3v1.5h-3zM920 1068h3v1.5h-3zM916 1092h3v1.5h-3zM926 1051h3v1.5h-3zM926 1060h3v1.5h-3zM924 1044h3v1.5h-3zM925 1099h3v1.5h-3zM923 1084h3v1.5h-3zM923 1083h3v1.5h-3zM921 1041h3v1.5h-3zM922 1085h3v1.5h-3zM921 1073h3v1.5h-3zM926 1083h3v1.5h-3zM919 1059h3v1.5h-3zM917 1063h3v1.5h-3zM926 1068h3v1.5h-3zM918 1071h3v1.5h-3zM921 1092h3v1.5h-3zM917 1093h3v1.5h-3zM919 1075h3v1.5h-3zM918 1027h3v1.5h-3zM916 1016h3v1.5h-3zM924 1014h3v1.5h-3zM921 1012h3v1.5h-3zM918 1010h3v1.5h-3zM920 1016h3v1.5h-3zM922 1019h3v1.5h-3zM919 1027h3v1.5h-3zM918 1017h3v1.5h-3zM919 1015h3v1.5h-3zM916 1023h3v1.5h-3zM924 1027h3v1.5h-3zM921 1018h3v1.5h-3zM918 1000h3v1.5h-3zM918 1008h3v1.5h-3zM917 1034h3v1.5h-3zM924 1020h3v1.5h-3zM916 1022h3v1.5h-3zM920 1009h3v1.5h-3zM917 1028h3v1.5h-3zM925 1009h3v1.5h-3zM917 1024h3v1.5h-3zM919 1011h3v1.5h-3zM922 1005h3v1.5h-3zM924 1017h3v1.5h-3zM923 1009h3v1.5h-3zM923 1019h3v1.5h-3zM923 1010h3v1.5h-3zM939 724h3v1.5h-3zM938 729h3v1.5h-3zM937 703h3v1.5h-3zM934 686h3v1.5h-3zM935 710h3v1.5h-3zM937 690h3v1.5h-3zM936 712h3v1.5h-3zM934 709h3v1.5h-3zM937 716h3v1.5h-3zM933 704h3v1.5h-3zM933 715h3v1.5h-3zM937 691h3v1.5h-3zM934 709h3v1.5h-3zM931 716h3v1.5h-3zM930 772h3v1.5h-3zM936 820h3v1.5h-3zM940 797h3v1.5h-3zM939 745h3v1.5h-3zM941 809h3v1.5h-3zM934 738h3v1.5h-3zM929 825h3v1.5h-3zM936 780h3v1.5h-3zM940 752h3v1.5h-3zM936 729h3v1.5h-3zM935 778h3v1.5h-3zM937 790h3v1.5h-3zM933 770h3v1.5h-3zM933 734h3v1.5h-3zM937 777h3v1.5h-3zM930 792h3v1.5h-3zM934 773h3v1.5h-3zM936 741h3v1.5h-3zM941 781h3v1.5h-3zM934 767h3v1.5h-3zM941 795h3v1.5h-3zM935 748h3v1.5h-3zM931 797h3v1.5h-3zM941 747h3v1.5h-3zM935 818h3v1.5h-3zM940 760h3v1.5h-3zM939 730h3v1.5h-3zM940 787h3v1.5h-3zM931 800h3v1.5h-3zM935 779h3v1.5h-3zM931 811h3v1.5h-3zM937 769h3v1.5h-3zM933 730h3v1.5h-3zM937 825h3v1.5h-3zM934 750h3v1.5h-3zM932 760h3v1.5h-3zM929 799h3v1.5h-3zM939 771h3v1.5h-3zM937 810h3v1.5h-3zM935 774h3v1.5h-3zM932 765h3v1.5h-3zM935 730h3v1.5h-3zM936 788h3v1.5h-3zM930 814h3v1.5h-3zM938 819h3v1.5h-3zM930 812h3v1.5h-3zM935 747h3v1.5h-3zM936 749h3v1.5h-3zM929 828h3v1.5h-3zM939 797h3v1.5h-3zM938 794h3v1.5h-3zM931 803h3v1.5h-3zM930 739h3v1.5h-3zM936 794h3v1.5h-3zM934 791h3v1.5h-3zM929 740h3v1.5h-3zM936 733h3v1.5h-3zM934 767h3v1.5h-3zM932 825h3v1.5h-3zM941 744h3v1.5h-3zM933 739h3v1.5h-3zM939 799h3v1.5h-3zM936 733h3v1.5h-3zM935 734h3v1.5h-3zM932 790h3v1.5h-3zM938 807h3v1.5h-3zM933 742h3v1.5h-3zM935 750h3v1.5h-3zM932 812h3v1.5h-3zM936 976h3v1.5h-3zM943 957h3v1.5h-3zM938 989h3v1.5h-3zM938 940h3v1.5h-3zM936 997h3v1.5h-3zM933 861h3v1.5h-3zM936 965h3v1.5h-3zM934 958h3v1.5h-3zM934 1003h3v1.5h-3zM939 948h3v1.5h-3zM933 882h3v1.5h-3zM933 961h3v1.5h-3zM942 986h3v1.5h-3zM937 859h3v1.5h-3zM941 981h3v1.5h-3zM936 879h3v1.5h-3zM936 837h3v1.5h-3zM934 838h3v1.5h-3zM938 968h3v1.5h-3zM937 986h3v1.5h-3zM940 962h3v1.5h-3zM942 903h3v1.5h-3zM936 965h3v1.5h-3zM939 971h3v1.5h-3zM942 987h3v1.5h-3zM938 912h3v1.5h-3zM935 870h3v1.5h-3zM936 891h3v1.5h-3zM938 953h3v1.5h-3zM936 994h3v1.5h-3zM934 856h3v1.5h-3zM935 890h3v1.5h-3zM933 908h3v1.5h-3zM936 919h3v1.5h-3zM935 997h3v1.5h-3zM935 968h3v1.5h-3zM933 880h3v1.5h-3zM935 937h3v1.5h-3zM942 870h3v1.5h-3zM942 854h3v1.5h-3zM933 959h3v1.5h-3zM932 887h3v1.5h-3zM939 946h3v1.5h-3zM936 891h3v1.5h-3zM940 965h3v1.5h-3zM942 946h3v1.5h-3zM939 977h3v1.5h-3zM933 845h3v1.5h-3zM940 881h3v1.5h-3zM932 1002h3v1.5h-3zM933 974h3v1.5h-3zM935 941h3v1.5h-3zM932 953h3v1.5h-3zM939 977h3v1.5h-3zM942 907h3v1.5h-3zM940 963h3v1.5h-3zM937 886h3v1.5h-3zM936 1009h3v1.5h-3zM942 869h3v1.5h-3zM935 1002h3v1.5h-3zM942 900h3v1.5h-3zM932 965h3v1.5h-3zM933 867h3v1.5h-3zM934 845h3v1.5h-3zM940 994h3v1.5h-3zM940 938h3v1.5h-3zM940 860h3v1.5h-3zM935 993h3v1.5h-3zM943 933h3v1.5h-3zM943 885h3v1.5h-3zM940 860h3v1.5h-3zM939 928h3v1.5h-3zM932 884h3v1.5h-3zM937 917h3v1.5h-3zM943 986h3v1.5h-3zM941 1001h3v1.5h-3zM940 864h3v1.5h-3zM935 911h3v1.5h-3zM943 894h3v1.5h-3zM938 964h3v1.5h-3zM932 945h3v1.5h-3zM936 973h3v1.5h-3zM935 985h3v1.5h-3zM940 889h3v1.5h-3zM934 966h3v1.5h-3zM938 929h3v1.5h-3zM943 946h3v1.5h-3zM935 850h3v1.5h-3zM933 908h3v1.5h-3zM936 862h3v1.5h-3zM938 872h3v1.5h-3zM934 889h3v1.5h-3zM939 926h3v1.5h-3zM941 860h3v1.5h-3zM933 957h3v1.5h-3zM936 972h3v1.5h-3zM932 959h3v1.5h-3zM934 883h3v1.5h-3zM937 989h3v1.5h-3zM935 925h3v1.5h-3zM936 979h3v1.5h-3zM932 1007h3v1.5h-3zM943 874h3v1.5h-3zM933 880h3v1.5h-3zM943 908h3v1.5h-3zM933 921h3v1.5h-3zM937 975h3v1.5h-3zM938 1008h3v1.5h-3zM943 893h3v1.5h-3zM939 841h3v1.5h-3zM939 964h3v1.5h-3zM934 984h3v1.5h-3zM932 870h3v1.5h-3zM942 956h3v1.5h-3zM934 894h3v1.5h-3zM942 842h3v1.5h-3zM934 868h3v1.5h-3zM941 876h3v1.5h-3zM935 976h3v1.5h-3zM941 952h3v1.5h-3zM936 910h3v1.5h-3zM936 860h3v1.5h-3zM934 1002h3v1.5h-3zM938 896h3v1.5h-3zM941 882h3v1.5h-3zM942 839h3v1.5h-3zM937 919h3v1.5h-3zM933 955h3v1.5h-3zM938 995h3v1.5h-3zM940 980h3v1.5h-3zM937 835h3v1.5h-3zM933 1002h3v1.5h-3zM937 975h3v1.5h-3zM940 1009h3v1.5h-3zM942 855h3v1.5h-3zM941 933h3v1.5h-3zM935 890h3v1.5h-3zM938 933h3v1.5h-3zM936 930h3v1.5h-3zM939 861h3v1.5h-3zM942 980h3v1.5h-3zM935 929h3v1.5h-3zM938 947h3v1.5h-3zM934 994h3v1.5h-3zM935 926h3v1.5h-3zM943 846h3v1.5h-3zM942 834h3v1.5h-3zM943 898h3v1.5h-3zM943 1094h3v1.5h-3zM942 1044h3v1.5h-3zM938 1048h3v1.5h-3zM944 1056h3v1.5h-3zM941 1072h3v1.5h-3zM939 1020h3v1.5h-3zM936 1082h3v1.5h-3zM942 1059h3v1.5h-3zM936 1040h3v1.5h-3zM939 1047h3v1.5h-3zM939 1052h3v1.5h-3zM941 1064h3v1.5h-3zM937 1083h3v1.5h-3zM944 1050h3v1.5h-3zM937 1022h3v1.5h-3zM938 1091h3v1.5h-3zM940 1077h3v1.5h-3zM940 1049h3v1.5h-3zM938 1048h3v1.5h-3zM937 1053h3v1.5h-3zM941 1092h3v1.5h-3zM939 1093h3v1.5h-3zM939 1022h3v1.5h-3zM940 1035h3v1.5h-3zM942 1089h3v1.5h-3zM944 1034h3v1.5h-3zM936 1025h3v1.5h-3zM939 1084h3v1.5h-3zM944 1049h3v1.5h-3zM942 1087h3v1.5h-3zM942 1094h3v1.5h-3zM938 1066h3v1.5h-3zM936 1046h3v1.5h-3zM937 1072h3v1.5h-3zM942 1061h3v1.5h-3zM943 1043h3v1.5h-3zM943 1049h3v1.5h-3zM944 1021h3v1.5h-3zM937 1032h3v1.5h-3zM939 1031h3v1.5h-3zM942 1025h3v1.5h-3zM937 1066h3v1.5h-3zM942 1014h3v1.5h-3zM942 1095h3v1.5h-3zM941 1090h3v1.5h-3zM940 1027h3v1.5h-3zM937 1016h3v1.5h-3zM942 1076h3v1.5h-3zM937 1059h3v1.5h-3zM943 1047h3v1.5h-3zM937 1097h3v1.5h-3zM936 1027h3v1.5h-3zM937 1049h3v1.5h-3zM938 1037h3v1.5h-3zM939 1086h3v1.5h-3zM943 1051h3v1.5h-3zM942 1027h3v1.5h-3zM944 1098h3v1.5h-3zM939 1086h3v1.5h-3zM940 1021h3v1.5h-3zM943 1096h3v1.5h-3zM937 1026h3v1.5h-3zM942 1064h3v1.5h-3zM940 1085h3v1.5h-3zM943 1064h3v1.5h-3zM943 1044h3v1.5h-3zM936 1070h3v1.5h-3zM937 1019h3v1.5h-3zM941 1095h3v1.5h-3zM965 1081h3v1.5h-3zM979 1044h3v1.5h-3zM976 1071h3v1.5h-3zM958 1079h3v1.5h-3zM973 1102h3v1.5h-3zM979 1003h3v1.5h-3zM960 1096h3v1.5h-3zM989 1082h3v1.5h-3zM970 1066h3v1.5h-3zM970 1061h3v1.5h-3zM982 1013h3v1.5h-3zM1004 1102h3v1.5h-3zM984 1034h3v1.5h-3zM999 1060h3v1.5h-3zM987 1051h3v1.5h-3zM975 1079h3v1.5h-3zM995 1048h3v1.5h-3zM1002 1070h3v1.5h-3zM972 1043h3v1.5h-3zM992 1068h3v1.5h-3zM987 1075h3v1.5h-3zM983 1066h3v1.5h-3zM960 1087h3v1.5h-3zM973 1022h3v1.5h-3zM980 1066h3v1.5h-3zM969 1086h3v1.5h-3zM974 1092h3v1.5h-3zM958 1066h3v1.5h-3zM979 1059h3v1.5h-3zM984 1076h3v1.5h-3zM965 1099h3v1.5h-3zM972 1079h3v1.5h-3zM992 1064h3v1.5h-3zM1002 1087h3v1.5h-3zM1001 1074h3v1.5h-3zM961 1094h3v1.5h-3zM985 1016h3v1.5h-3zM974 1036h3v1.5h-3zM978 1020h3v1.5h-3zM961 1079h3v1.5h-3zM1000 1089h3v1.5h-3zM970 1102h3v1.5h-3zM965 1087h3v1.5h-3zM991 1087h3v1.5h-3zM976 1085h3v1.5h-3zM986 1030h3v1.5h-3zM988 1088h3v1.5h-3zM992 1036h3v1.5h-3zM986 1096h3v1.5h-3zM996 1049h3v1.5h-3zM974 1092h3v1.5h-3zM966 1069h3v1.5h-3zM999 1068h3v1.5h-3zM1001 1093h3v1.5h-3zM973 1042h3v1.5h-3zM988 1071h3v1.5h-3zM989 1077h3v1.5h-3zM960 1083h3v1.5h-3zM960 1074h3v1.5h-3zM973 1062h3v1.5h-3zM986 1081h3v1.5h-3zM979 1102h3v1.5h-3zM1001 1075h3v1.5h-3zM1004 1101h3v1.5h-3zM986 1042h3v1.5h-3zM973 1096h3v1.5h-3zM965 1095h3v1.5h-3zM994 1097h3v1.5h-3zM996 1077h3v1.5h-3zM983 1048h3v1.5h-3zM984 1043h3v1.5h-3zM986 1075h3v1.5h-3zM992 1085h3v1.5h-3zM991 1048h3v1.5h-3zM994 1083h3v1.5h-3zM994 1039h3v1.5h-3zM979 1075h3v1.5h-3zM982 1014h3v1.5h-3zM964 1103h3v1.5h-3zM980 1037h3v1.5h-3zM994 1079h3v1.5h-3zM1004 1093h3v1.5h-3zM993 1097h3v1.5h-3zM959 1097h3v1.5h-3zM960 1079h3v1.5h-3zM984 1087h3v1.5h-3zM1002 1086h3v1.5h-3zM965 1093h3v1.5h-3zM992 1039h3v1.5h-3zM965 1101h3v1.5h-3zM994 1087h3v1.5h-3zM1004 1081h3v1.5h-3zM987 1075h3v1.5h-3zM995 1074h3v1.5h-3zM973 1029h3v1.5h-3zM963 1063h3v1.5h-3zM961 1071h3v1.5h-3zM976 1023h3v1.5h-3zM960 1076h3v1.5h-3zM977 1017h3v1.5h-3zM1002 1073h3v1.5h-3zM968 1086h3v1.5h-3zM970 1071h3v1.5h-3zM968 1089h3v1.5h-3zM993 1060h3v1.5h-3zM972 1025h3v1.5h-3zM968 1064h3v1.5h-3zM965 1051h3v1.5h-3zM998 1088h3v1.5h-3zM993 1047h3v1.5h-3zM971 1078h3v1.5h-3zM980 1014h3v1.5h-3zM965 1061h3v1.5h-3zM986 1064h3v1.5h-3zM985 1025h3v1.5h-3zM967 1044h3v1.5h-3zM974 1036h3v1.5h-3zM998 1093h3v1.5h-3zM998 1047h3v1.5h-3zM971 1101h3v1.5h-3zM963 1049h3v1.5h-3zM958 1064h3v1.5h-3zM965 1059h3v1.5h-3zM962 1094h3v1.5h-3zM990 1096h3v1.5h-3zM973 1026h3v1.5h-3zM991 1040h3v1.5h-3zM1004 1102h3v1.5h-3zM969 1047h3v1.5h-3zM990 1100h3v1.5h-3zM981 1081h3v1.5h-3zM978 1093h3v1.5h-3zM958 1059h3v1.5h-3zM972 1032h3v1.5h-3zM963 1076h3v1.5h-3zM964 1078h3v1.5h-3zM966 1060h3v1.5h-3zM964 1059h3v1.5h-3zM981 1092h3v1.5h-3zM974 1061h3v1.5h-3zM1001 1094h3v1.5h-3zM970 1063h3v1.5h-3zM999 1076h3v1.5h-3zM973 1100h3v1.5h-3zM972 1102h3v1.5h-3zM962 1087h3v1.5h-3zM978 1085h3v1.5h-3zM976 1103h3v1.5h-3zM991 1080h3v1.5h-3zM984 1085h3v1.5h-3zM991 1062h3v1.5h-3zM999 1077h3v1.5h-3zM978 1095h3v1.5h-3zM979 1063h3v1.5h-3zM978 1092h3v1.5h-3zM979 1100h3v1.5h-3zM1004 1103h3v1.5h-3zM987 1066h3v1.5h-3zM972 1082h3v1.5h-3zM977 1098h3v1.5h-3zM969 1101h3v1.5h-3zM998 1073h3v1.5h-3zM1000 1103h3v1.5h-3zM991 1095h3v1.5h-3zM989 1085h3v1.5h-3zM974 1063h3v1.5h-3zM961 1075h3v1.5h-3zM998 1087h3v1.5h-3zM987 1062h3v1.5h-3zM971 1081h3v1.5h-3zM993 1092h3v1.5h-3zM992 1092h3v1.5h-3zM984 1082h3v1.5h-3zM990 1095h3v1.5h-3zM988 1085h3v1.5h-3zM970 1082h3v1.5h-3zM972 1067h3v1.5h-3zM981 1077h3v1.5h-3zM983 1088h3v1.5h-3zM970 1101h3v1.5h-3zM1001 1086h3v1.5h-3zM984 1086h3v1.5h-3zM996 1098h3v1.5h-3zM968 1071h3v1.5h-3zM981 1081h3v1.5h-3zM997 1067h3v1.5h-3zM999 1103h3v1.5h-3zM977 1071h3v1.5h-3zM996 1101h3v1.5h-3zM967 1097h3v1.5h-3zM965 1093h3v1.5h-3zM996 1086h3v1.5h-3zM980 1102h3v1.5h-3zM978 1061h3v1.5h-3zM991 1090h3v1.5h-3zM982 1073h3v1.5h-3zM994 1100h3v1.5h-3zM990 1093h3v1.5h-3zM983 1098h3v1.5h-3zM977 1094h3v1.5h-3zM977 1103h3v1.5h-3zM969 1084h3v1.5h-3zM963 1099h3v1.5h-3zM992 1096h3v1.5h-3zM975 1097h3v1.5h-3zM997 1102h3v1.5h-3zM988 1069h3v1.5h-3zM969 1091h3v1.5h-3zM995 1082h3v1.5h-3zM977 1103h3v1.5h-3zM980 1093h3v1.5h-3zM992 1096h3v1.5h-3zM978 1080h3v1.5h-3zM996 1093h3v1.5h-3zM977 1084h3v1.5h-3zM1001 1099h3v1.5h-3zM1003 1077h3v1.5h-3zM977 1079h3v1.5h-3zM975 1102h3v1.5h-3zM994 1092h3v1.5h-3zM984 1087h3v1.5h-3zM1000 1075h3v1.5h-3zM962 1083h3v1.5h-3zM981 1089h3v1.5h-3zM997 1091h3v1.5h-3zM981 1068h3v1.5h-3zM980 1088h3v1.5h-3zM983 1071h3v1.5h-3zM990 1076h3v1.5h-3zM978 1103h3v1.5h-3zM990 1085h3v1.5h-3zM994 1074h3v1.5h-3zM966 1098h3v1.5h-3zM964 1072h3v1.5h-3zM965 1102h3v1.5h-3zM994 1084h3v1.5h-3zM963 1079h3v1.5h-3zM992 1088h3v1.5h-3zM963 1078h3v1.5h-3zM979 1083h3v1.5h-3zM1004 1072h3v1.5h-3zM999 1100h3v1.5h-3zM975 1087h3v1.5h-3zM961 1062h3v1.5h-3zM973 1097h3v1.5h-3zM974 1097h3v1.5h-3zM998 1085h3v1.5h-3zM983 1091h3v1.5h-3zM963 1095h3v1.5h-3zM999 1072h3v1.5h-3zM998 1097h3v1.5h-3zM969 1103h3v1.5h-3zM984 1093h3v1.5h-3zM981 1088h3v1.5h-3zM986 1093h3v1.5h-3zM996 1099h3v1.5h-3zM1001 1085h3v1.5h-3zM963 1095h3v1.5h-3zM984 1091h3v1.5h-3zM985 1095h3v1.5h-3zM973 1073h3v1.5h-3zM973 1077h3v1.5h-3zM996 1083h3v1.5h-3zM981 1065h3v1.5h-3zM980 1068h3v1.5h-3zM963 1090h3v1.5h-3zM989 1103h3v1.5h-3zM998 1102h3v1.5h-3zM987 1099h3v1.5h-3zM1001 1085h3v1.5h-3zM996 1087h3v1.5h-3zM990 1079h3v1.5h-3zM973 1098h3v1.5h-3zM997 1100h3v1.5h-3zM1001 1099h3v1.5h-3zM965 1102h3v1.5h-3zM995 1064h3v1.5h-3zM979 1080h3v1.5h-3zM972 1067h3v1.5h-3zM991 1100h3v1.5h-3zM963 1078h3v1.5h-3zM962 1071h3v1.5h-3zM973 1098h3v1.5h-3zM986 1095h3v1.5h-3zM985 1100h3v1.5h-3zM1001 1095h3v1.5h-3zM998 1100h3v1.5h-3zM996 1062h3v1.5h-3zM978 1103h3v1.5h-3zM977 1081h3v1.5h-3zM970 1085h3v1.5h-3zM965 1089h3v1.5h-3zM993 1090h3v1.5h-3zM990 1101h3v1.5h-3zM997 1101h3v1.5h-3zM1001 1061h3v1.5h-3zM1002 1086h3v1.5h-3zM973 1094h3v1.5h-3zM994 1087h3v1.5h-3zM1001 1102h3v1.5h-3zM982 1069h3v1.5h-3zM987 1085h3v1.5h-3zM964 1101h3v1.5h-3zM972 1067h3v1.5h-3zM998 1098h3v1.5h-3zM1001 1103h3v1.5h-3zM987 1063h3v1.5h-3zM976 1064h3v1.5h-3zM989 1103h3v1.5h-3zM975 1090h3v1.5h-3zM971 1076h3v1.5h-3zM968 1073h3v1.5h-3zM974 1102h3v1.5h-3zM985 1102h3v1.5h-3zM985 1073h3v1.5h-3zM987 1089h3v1.5h-3zM962 1087h3v1.5h-3zM965 1080h3v1.5h-3zM966 1084h3v1.5h-3zM976 1093h3v1.5h-3zM990 1100h3v1.5h-3zM968 1065h3v1.5h-3zM975 1070h3v1.5h-3zM999 1088h3v1.5h-3zM967 1102h3v1.5h-3zM999 1101h3v1.5h-3zM982 1086h3v1.5h-3zM966 1089h3v1.5h-3zM968 1086h3v1.5h-3zM983 1093h3v1.5h-3zM969 1091h3v1.5h-3zM969 1101h3v1.5h-3zM971 1069h3v1.5h-3zM983 1068h3v1.5h-3zM961 1065h3v1.5h-3zM982 1073h3v1.5h-3zM986 1078h3v1.5h-3zM971 1075h3v1.5h-3zM967 1097h3v1.5h-3zM962 1092h3v1.5h-3zM983 1096h3v1.5h-3zM1000 1102h3v1.5h-3zM986 1098h3v1.5h-3zM987 1073h3v1.5h-3zM992 1102h3v1.5h-3zM971 1083h3v1.5h-3zM1004 1103h3v1.5h-3zM988 1078h3v1.5h-3zM996 1094h3v1.5h-3zM996 1089h3v1.5h-3zM1001 1103h3v1.5h-3zM961 1090h3v1.5h-3zM959 1101h3v1.5h-3zM958 1081h3v1.5h-3zM960 1099h3v1.5h-3zM959 1099h3v1.5h-3zM958 1096h3v1.5h-3zM959 1073h3v1.5h-3zM961 1079h3v1.5h-3zM959 1088h3v1.5h-3zM960 1075h3v1.5h-3zM960 1084h3v1.5h-3zM958 1084h3v1.5h-3zM1064 1102h3v1.5h-3zM1025 1105h3v1.5h-3zM1039 1106h3v1.5h-3zM1071 1109h3v1.5h-3zM1059 1108h3v1.5h-3zM1064 1099h3v1.5h-3zM1068 1106h3v1.5h-3zM1064 1101h3v1.5h-3zM1051 1098h3v1.5h-3zM1063 1101h3v1.5h-3zM1066 1108h3v1.5h-3zM1070 1109h3v1.5h-3zM1070 1109h3v1.5h-3zM1071 1109h3v1.5h-3zM1034 1092h3v1.5h-3zM1033 1107h3v1.5h-3zM1044 1101h3v1.5h-3zM1046 1069h3v1.5h-3zM1056 1094h3v1.5h-3zM1041 1081h3v1.5h-3zM1062 1101h3v1.5h-3zM1069 1108h3v1.5h-3zM1042 1108h3v1.5h-3zM1054 1088h3v1.5h-3zM1038 1093h3v1.5h-3zM1064 1102h3v1.5h-3zM1021 1110h3v1.5h-3zM1021 1109h3v1.5h-3zM1063 1105h3v1.5h-3zM1052 1098h3v1.5h-3zM1038 1105h3v1.5h-3zM1039 1083h3v1.5h-3zM1053 1103h3v1.5h-3zM1025 1108h3v1.5h-3zM1057 1102h3v1.5h-3zM1055 1090h3v1.5h-3zM1027 1104h3v1.5h-3zM1023 1108h3v1.5h-3zM1030 1107h3v1.5h-3zM1070 1109h3v1.5h-3zM1032 1093h3v1.5h-3zM1052 1083h3v1.5h-3zM1041 1094h3v1.5h-3zM1070 1109h3v1.5h-3zM1072 1109h3v1.5h-3zM1064 1108h3v1.5h-3zM1048 1109h3v1.5h-3zM1030 1097h3v1.5h-3zM1044 1071h3v1.5h-3zM1034 1104h3v1.5h-3zM1026 1106h3v1.5h-3zM1065 1106h3v1.5h-3zM1040 1076h3v1.5h-3zM1067 1106h3v1.5h-3zM1024 1107h3v1.5h-3zM1044 1064h3v1.5h-3zM1039 1089h3v1.5h-3zM1053 1101h3v1.5h-3zM1048 1085h3v1.5h-3zM1068 1107h3v1.5h-3zM1039 1076h3v1.5h-3zM1024 1076h3v1.5h-3zM1026 1086h3v1.5h-3zM1026 1079h3v1.5h-3zM1027 1080h3v1.5h-3zM1027 1104h3v1.5h-3zM1025 1100h3v1.5h-3zM1027 1074h3v1.5h-3zM1025 1085h3v1.5h-3zM1026 1104h3v1.5h-3zM1025 1079h3v1.5h-3zM1026 1095h3v1.5h-3zM1027 1095h3v1.5h-3zM1026 1091h3v1.5h-3zM1027 1083h3v1.5h-3zM1056 1086h3v1.5h-3zM1038 1073h3v1.5h-3zM1052 1086h3v1.5h-3zM1034 1104h3v1.5h-3zM1047 1080h3v1.5h-3zM1056 1099h3v1.5h-3zM1028 1093h3v1.5h-3zM1059 1104h3v1.5h-3zM1054 1104h3v1.5h-3zM1036 1107h3v1.5h-3zM1035 1098h3v1.5h-3zM1063 1073h3v1.5h-3zM1030 1100h3v1.5h-3zM1062 1104h3v1.5h-3zM1036 1096h3v1.5h-3zM1027 1102h3v1.5h-3zM1039 1098h3v1.5h-3zM1063 1102h3v1.5h-3zM1031 1076h3v1.5h-3zM1041 1079h3v1.5h-3zM1049 1082h3v1.5h-3zM1036 1105h3v1.5h-3zM1054 1095h3v1.5h-3zM1046 1087h3v1.5h-3zM1054 1101h3v1.5h-3zM1038 1075h3v1.5h-3zM1045 1101h3v1.5h-3zM1049 1102h3v1.5h-3zM1055 1107h3v1.5h-3zM1057 1091h3v1.5h-3zM1037 1074h3v1.5h-3zM1034 1102h3v1.5h-3zM1025 1092h3v1.5h-3zM1054 1086h3v1.5h-3zM1040 1081h3v1.5h-3zM1027 1100h3v1.5h-3zM1050 1073h3v1.5h-3zM1049 1086h3v1.5h-3zM1055 1097h3v1.5h-3zM1062 1084h3v1.5h-3zM1037 1098h3v1.5h-3zM1056 1099h3v1.5h-3zM1030 1078h3v1.5h-3zM1045 1093h3v1.5h-3zM1051 1076h3v1.5h-3zM1028 1099h3v1.5h-3zM1025 1097h3v1.5h-3zM1044 1078h3v1.5h-3zM1051 1091h3v1.5h-3zM1039 1091h3v1.5h-3zM1034 1079h3v1.5h-3zM1056 1079h3v1.5h-3zM1029 1087h3v1.5h-3zM1054 1094h3v1.5h-3zM1060 1076h3v1.5h-3zM1054 1080h3v1.5h-3zM1050 1077h3v1.5h-3zM1028 1085h3v1.5h-3zM1052 1089h3v1.5h-3zM1034 1106h3v1.5h-3zM1048 1080h3v1.5h-3zM1034 1103h3v1.5h-3zM1032 1106h3v1.5h-3zM1051 1073h3v1.5h-3zM1056 1099h3v1.5h-3zM1052 1106h3v1.5h-3zM1058 1100h3v1.5h-3zM1023 1088h3v1.5h-3zM1028 1101h3v1.5h-3zM1025 1096h3v1.5h-3zM1046 1081h3v1.5h-3zM1024 1080h3v1.5h-3zM1027 1103h3v1.5h-3zM1049 1099h3v1.5h-3zM1036 1091h3v1.5h-3zM1032 1081h3v1.5h-3zM1031 1079h3v1.5h-3zM1056 1092h3v1.5h-3zM1024 1082h3v1.5h-3zM1024 1093h3v1.5h-3zM1040 1106h3v1.5h-3zM1049 1084h3v1.5h-3zM1047 1097h3v1.5h-3zM1044 1090h3v1.5h-3zM1032 1078h3v1.5h-3zM1064 1081h3v1.5h-3zM1063 1100h3v1.5h-3zM1064 1106h3v1.5h-3zM1043 1105h3v1.5h-3zM1042 1086h3v1.5h-3zM1052 1095h3v1.5h-3zM1037 1104h3v1.5h-3zM1039 1101h3v1.5h-3zM1031 1084h3v1.5h-3zM1044 1096h3v1.5h-3zM1031 1085h3v1.5h-3zM1031 1102h3v1.5h-3zM1046 1085h3v1.5h-3zM1063 1083h3v1.5h-3zM1062 1075h3v1.5h-3zM1053 1085h3v1.5h-3zM1025 1103h3v1.5h-3zM1023 1078h3v1.5h-3zM1053 1088h3v1.5h-3zM1034 1099h3v1.5h-3zM1029 1088h3v1.5h-3zM1064 1100h3v1.5h-3zM1024 1104h3v1.5h-3zM1037 1076h3v1.5h-3zM1056 1095h3v1.5h-3zM1027 1106h3v1.5h-3zM1029 1082h3v1.5h-3zM1042 1072h3v1.5h-3zM1061 1081h3v1.5h-3zM1043 1080h3v1.5h-3zM1028 1106h3v1.5h-3zM1046 1093h3v1.5h-3zM1031 1102h3v1.5h-3zM1023 1076h3v1.5h-3zM1052 1074h3v1.5h-3zM1064 1096h3v1.5h-3zM1081 1087h3v1.5h-3zM1082 1060h3v1.5h-3zM1074 1109h3v1.5h-3zM1075 1075h3v1.5h-3zM1077 1109h3v1.5h-3zM1082 1064h3v1.5h-3zM1078 1107h3v1.5h-3zM1083 1078h3v1.5h-3zM1073 1090h3v1.5h-3zM1080 1058h3v1.5h-3zM1078 1072h3v1.5h-3zM1075 1095h3v1.5h-3zM1083 1087h3v1.5h-3zM1074 1075h3v1.5h-3zM1074 1098h3v1.5h-3zM1078 1075h3v1.5h-3zM1087 763h3v1.5h-3zM1089 768h3v1.5h-3zM1087 809h3v1.5h-3zM1090 830h3v1.5h-3zM1093 835h3v1.5h-3zM1133 680h3v1.5h-3zM1125 685h3v1.5h-3zM1136 685h3v1.5h-3zM1126 682h3v1.5h-3zM1134 680h3v1.5h-3zM1118 680h3v1.5h-3zM1135 681h3v1.5h-3zM1114 678h3v1.5h-3zM1131 685h3v1.5h-3zM1118 677h3v1.5h-3zM1117 682h3v1.5h-3zM1138 679h3v1.5h-3zM1133 679h3v1.5h-3zM1110 684h3v1.5h-3zM1146 679h3v1.5h-3zM1110 685h3v1.5h-3zM1118 678h3v1.5h-3zM1117 680h3v1.5h-3zM1144 680h3v1.5h-3zM1143 683h3v1.5h-3zM1113 819h3v1.5h-3zM1138 807h3v1.5h-3zM1146 722h3v1.5h-3zM1114 708h3v1.5h-3zM1113 750h3v1.5h-3zM1111 711h3v1.5h-3zM1143 693h3v1.5h-3zM1107 702h3v1.5h-3zM1129 706h3v1.5h-3zM1127 734h3v1.5h-3zM1131 709h3v1.5h-3zM1110 814h3v1.5h-3zM1129 781h3v1.5h-3zM1123 820h3v1.5h-3zM1137 818h3v1.5h-3zM1141 708h3v1.5h-3zM1125 804h3v1.5h-3zM1133 792h3v1.5h-3zM1124 806h3v1.5h-3zM1147 745h3v1.5h-3zM1121 808h3v1.5h-3zM1136 702h3v1.5h-3zM1141 807h3v1.5h-3zM1122 779h3v1.5h-3zM1138 801h3v1.5h-3zM1131 684h3v1.5h-3zM1138 820h3v1.5h-3zM1110 805h3v1.5h-3zM1135 737h3v1.5h-3zM1128 757h3v1.5h-3zM1123 736h3v1.5h-3zM1133 693h3v1.5h-3zM1137 710h3v1.5h-3zM1144 704h3v1.5h-3zM1136 817h3v1.5h-3zM1134 702h3v1.5h-3zM1124 698h3v1.5h-3zM1114 689h3v1.5h-3zM1125 722h3v1.5h-3zM1117 779h3v1.5h-3zM1121 776h3v1.5h-3zM1110 759h3v1.5h-3zM1147 730h3v1.5h-3zM1145 715h3v1.5h-3zM1141 682h3v1.5h-3zM1137 783h3v1.5h-3zM1117 764h3v1.5h-3zM1107 789h3v1.5h-3zM1143 692h3v1.5h-3zM1120 713h3v1.5h-3zM1138 697h3v1.5h-3zM1139 747h3v1.5h-3zM1111 706h3v1.5h-3zM1119 733h3v1.5h-3zM1122 746h3v1.5h-3zM1146 799h3v1.5h-3zM1128 730h3v1.5h-3zM1129 690h3v1.5h-3zM1123 693h3v1.5h-3zM1135 686h3v1.5h-3zM1110 792h3v1.5h-3zM1118 694h3v1.5h-3zM1107 785h3v1.5h-3zM1136 683h3v1.5h-3zM1114 760h3v1.5h-3zM1135 725h3v1.5h-3zM1137 716h3v1.5h-3zM1117 785h3v1.5h-3zM1108 724h3v1.5h-3zM1115 785h3v1.5h-3zM1146 731h3v1.5h-3zM1131 729h3v1.5h-3zM1131 724h3v1.5h-3zM1119 812h3v1.5h-3zM1109 819h3v1.5h-3zM1121 801h3v1.5h-3zM1111 752h3v1.5h-3zM1146 725h3v1.5h-3zM1118 714h3v1.5h-3zM1114 807h3v1.5h-3zM1119 764h3v1.5h-3zM1135 759h3v1.5h-3zM1136 808h3v1.5h-3zM1145 773h3v1.5h-3zM1141 817h3v1.5h-3zM1140 790h3v1.5h-3zM1142 709h3v1.5h-3zM1134 782h3v1.5h-3zM1107 795h3v1.5h-3zM1144 799h3v1.5h-3zM1134 739h3v1.5h-3zM1134 796h3v1.5h-3zM1112 808h3v1.5h-3zM1147 768h3v1.5h-3zM1133 742h3v1.5h-3zM1116 812h3v1.5h-3zM1107 702h3v1.5h-3zM1112 686h3v1.5h-3zM1107 860h3v1.5h-3zM1093 851h3v1.5h-3zM1100 909h3v1.5h-3zM1117 944h3v1.5h-3zM1100 849h3v1.5h-3zM1102 907h3v1.5h-3zM1133 928h3v1.5h-3zM1097 929h3v1.5h-3zM1109 909h3v1.5h-3zM1125 894h3v1.5h-3zM1139 952h3v1.5h-3zM1126 844h3v1.5h-3zM1099 955h3v1.5h-3zM1112 943h3v1.5h-3zM1113 861h3v1.5h-3zM1090 943h3v1.5h-3zM1115 935h3v1.5h-3zM1099 898h3v1.5h-3zM1092 950h3v1.5h-3zM1107 895h3v1.5h-3zM1144 883h3v1.5h-3zM1089 929h3v1.5h-3zM1131 882h3v1.5h-3zM1139 826h3v1.5h-3zM1139 944h3v1.5h-3zM1144 887h3v1.5h-3zM1100 936h3v1.5h-3zM1139 930h3v1.5h-3zM1090 923h3v1.5h-3zM1143 896h3v1.5h-3zM1131 949h3v1.5h-3zM1113 915h3v1.5h-3zM1097 868h3v1.5h-3zM1107 943h3v1.5h-3zM1147 893h3v1.5h-3zM1096 958h3v1.5h-3zM1126 888h3v1.5h-3zM1086 894h3v1.5h-3zM1131 885h3v1.5h-3zM1099 890h3v1.5h-3zM1123 869h3v1.5h-3zM1094 848h3v1.5h-3zM1144 857h3v1.5h-3zM1139 909h3v1.5h-3zM1141 934h3v1.5h-3zM1099 877h3v1.5h-3zM1141 948h3v1.5h-3zM1098 954h3v1.5h-3zM1112 940h3v1.5h-3zM1097 856h3v1.5h-3zM1121 830h3v1.5h-3zM1110 866h3v1.5h-3zM1085 828h3v1.5h-3zM1099 893h3v1.5h-3zM1117 828h3v1.5h-3zM1116 822h3v1.5h-3zM1124 929h3v1.5h-3zM1137 931h3v1.5h-3zM1147 896h3v1.5h-3zM1099 827h3v1.5h-3zM1105 903h3v1.5h-3zM1106 867h3v1.5h-3zM1086 908h3v1.5h-3zM1095 845h3v1.5h-3zM1085 875h3v1.5h-3zM1101 897h3v1.5h-3zM1120 861h3v1.5h-3zM1093 926h3v1.5h-3zM1092 827h3v1.5h-3zM1094 940h3v1.5h-3zM1117 879h3v1.5h-3zM1140 951h3v1.5h-3zM1099 936h3v1.5h-3zM1121 897h3v1.5h-3zM1110 837h3v1.5h-3zM1126 841h3v1.5h-3zM1145 922h3v1.5h-3zM1144 903h3v1.5h-3zM1088 833h3v1.5h-3zM1091 957h3v1.5h-3zM1103 919h3v1.5h-3zM1145 839h3v1.5h-3zM1111 886h3v1.5h-3zM1138 848h3v1.5h-3zM1126 888h3v1.5h-3zM1092 926h3v1.5h-3zM1126 878h3v1.5h-3zM1135 835h3v1.5h-3zM1145 933h3v1.5h-3zM1089 835h3v1.5h-3zM1120 934h3v1.5h-3zM1128 924h3v1.5h-3zM1099 909h3v1.5h-3zM1118 866h3v1.5h-3zM1089 857h3v1.5h-3zM1124 894h3v1.5h-3zM1127 849h3v1.5h-3zM1085 894h3v1.5h-3zM1127 861h3v1.5h-3zM1125 934h3v1.5h-3zM1145 851h3v1.5h-3zM1099 900h3v1.5h-3zM1145 931h3v1.5h-3zM1110 827h3v1.5h-3zM1141 927h3v1.5h-3zM1131 910h3v1.5h-3zM1126 853h3v1.5h-3zM1093 929h3v1.5h-3zM1098 923h3v1.5h-3zM1087 940h3v1.5h-3zM1110 901h3v1.5h-3zM1089 879h3v1.5h-3zM1144 880h3v1.5h-3zM1107 862h3v1.5h-3zM1112 935h3v1.5h-3zM1115 957h3v1.5h-3zM1127 937h3v1.5h-3zM1108 826h3v1.5h-3zM1133 844h3v1.5h-3zM1125 872h3v1.5h-3zM1129 826h3v1.5h-3zM1097 854h3v1.5h-3zM1103 924h3v1.5h-3zM1136 876h3v1.5h-3zM1138 838h3v1.5h-3zM1122 932h3v1.5h-3zM1085 885h3v1.5h-3zM1130 922h3v1.5h-3zM1089 959h3v1.5h-3zM1095 863h3v1.5h-3zM1085 928h3v1.5h-3zM1101 861h3v1.5h-3zM1147 957h3v1.5h-3zM1092 830h3v1.5h-3zM1146 939h3v1.5h-3zM1106 887h3v1.5h-3zM1105 902h3v1.5h-3zM1115 924h3v1.5h-3zM1088 948h3v1.5h-3zM1095 947h3v1.5h-3zM1124 863h3v1.5h-3zM1101 850h3v1.5h-3zM1130 912h3v1.5h-3zM1115 933h3v1.5h-3zM1143 882h3v1.5h-3zM1088 938h3v1.5h-3zM1128 906h3v1.5h-3zM1130 928h3v1.5h-3zM1135 849h3v1.5h-3zM1090 878h3v1.5h-3zM1097 862h3v1.5h-3zM1135 850h3v1.5h-3zM1099 946h3v1.5h-3zM1126 881h3v1.5h-3zM1093 933h3v1.5h-3zM1121 944h3v1.5h-3zM1124 926h3v1.5h-3zM1101 901h3v1.5h-3zM1118 859h3v1.5h-3zM1086 859h3v1.5h-3zM1098 919h3v1.5h-3zM1125 864h3v1.5h-3zM1123 835h3v1.5h-3zM1097 916h3v1.5h-3zM1126 923h3v1.5h-3zM1094 928h3v1.5h-3zM1100 975h3v1.5h-3zM1099 963h3v1.5h-3zM1100 1021h3v1.5h-3zM1090 984h3v1.5h-3zM1085 994h3v1.5h-3zM1085 1045h3v1.5h-3zM1094 1036h3v1.5h-3zM1103 970h3v1.5h-3zM1093 1031h3v1.5h-3zM1086 1004h3v1.5h-3zM1094 1017h3v1.5h-3zM1099 1002h3v1.5h-3zM1100 1040h3v1.5h-3zM1085 1014h3v1.5h-3zM1094 1027h3v1.5h-3zM1098 1029h3v1.5h-3zM1090 1006h3v1.5h-3zM1098 980h3v1.5h-3zM1091 1009h3v1.5h-3zM1103 965h3v1.5h-3zM1096 1040h3v1.5h-3zM1093 992h3v1.5h-3zM1089 1046h3v1.5h-3zM1104 967h3v1.5h-3zM1086 1007h3v1.5h-3zM1097 1022h3v1.5h-3zM1085 982h3v1.5h-3zM1100 1010h3v1.5h-3zM1085 1014h3v1.5h-3zM1085 963h3v1.5h-3zM1085 1023h3v1.5h-3zM1100 1037h3v1.5h-3zM1086 1043h3v1.5h-3zM1087 1001h3v1.5h-3zM1101 1034h3v1.5h-3zM1087 980h3v1.5h-3zM1092 1019h3v1.5h-3zM1086 1027h3v1.5h-3zM1104 1039h3v1.5h-3zM1089 983h3v1.5h-3zM1102 968h3v1.5h-3zM1093 963h3v1.5h-3zM1096 1023h3v1.5h-3zM1093 985h3v1.5h-3zM1099 1038h3v1.5h-3zM1088 963h3v1.5h-3zM1086 976h3v1.5h-3zM1091 1027h3v1.5h-3zM1089 1007h3v1.5h-3zM1104 1036h3v1.5h-3zM1101 1020h3v1.5h-3zM1087 982h3v1.5h-3zM1091 1032h3v1.5h-3zM1092 975h3v1.5h-3zM1102 998h3v1.5h-3zM1084 981h3v1.5h-3zM1096 968h3v1.5h-3zM1103 1020h3v1.5h-3zM1101 976h3v1.5h-3zM1089 1016h3v1.5h-3zM1091 1017h3v1.5h-3zM1091 1039h3v1.5h-3zM1088 967h3v1.5h-3zM1092 992h3v1.5h-3zM1102 981h3v1.5h-3zM1088 1055h3v1.5h-3zM1100 1050h3v1.5h-3zM1099 1067h3v1.5h-3zM1100 1099h3v1.5h-3zM1097 1092h3v1.5h-3zM1101 1106h3v1.5h-3zM1094 1094h3v1.5h-3zM1101 1094h3v1.5h-3zM1101 1060h3v1.5h-3zM1102 1105h3v1.5h-3zM1103 1068h3v1.5h-3zM1097 1074h3v1.5h-3zM1084 1059h3v1.5h-3zM1095 1087h3v1.5h-3zM1090 1065h3v1.5h-3zM1100 1059h3v1.5h-3zM1087 1094h3v1.5h-3zM1088 1107h3v1.5h-3zM1090 1110h3v1.5h-3zM1100 1101h3v1.5h-3zM1084 1109h3v1.5h-3zM1099 1102h3v1.5h-3zM1093 1090h3v1.5h-3zM1100 1053h3v1.5h-3zM1089 1075h3v1.5h-3zM1102 1086h3v1.5h-3zM1102 1068h3v1.5h-3zM1089 1059h3v1.5h-3zM1095 1107h3v1.5h-3zM1095 1062h3v1.5h-3zM1094 1085h3v1.5h-3zM1092 1058h3v1.5h-3zM1097 1102h3v1.5h-3zM1090 1093h3v1.5h-3zM1104 1071h3v1.5h-3zM1085 1056h3v1.5h-3zM1083 1078h3v1.5h-3zM1092 1070h3v1.5h-3zM1092 1108h3v1.5h-3zM1094 1062h3v1.5h-3zM1100 1093h3v1.5h-3zM1087 1068h3v1.5h-3zM1100 1101h3v1.5h-3zM1102 1050h3v1.5h-3zM1092 1092h3v1.5h-3zM1098 1054h3v1.5h-3zM1087 1097h3v1.5h-3zM1090 1069h3v1.5h-3zM1087 1081h3v1.5h-3zM1094 1073h3v1.5h-3zM1086 1052h3v1.5h-3zM1104 1080h3v1.5h-3zM1100 1103h3v1.5h-3zM1103 1081h3v1.5h-3zM1099 1059h3v1.5h-3zM1090 1055h3v1.5h-3zM1087 1111h3v1.5h-3zM1094 1057h3v1.5h-3zM1102 1053h3v1.5h-3zM1094 1054h3v1.5h-3zM1095 1105h3v1.5h-3zM1096 1064h3v1.5h-3zM1092 1078h3v1.5h-3zM1088 1098h3v1.5h-3zM1092 1083h3v1.5h-3zM1093 1108h3v1.5h-3zM1083 1094h3v1.5h-3zM1098 1067h3v1.5h-3zM1088 1099h3v1.5h-3zM1094 1104h3v1.5h-3zM1096 1056h3v1.5h-3zM1087 1079h3v1.5h-3zM1098 1067h3v1.5h-3zM1098 1070h3v1.5h-3zM1088 1061h3v1.5h-3zM1103 1109h3v1.5h-3zM1103 1088h3v1.5h-3zM1084 1109h3v1.5h-3zM1100 1072h3v1.5h-3zM1086 1087h3v1.5h-3zM1097 1049h3v1.5h-3zM1090 1066h3v1.5h-3zM1088 1102h3v1.5h-3zM1086 1090h3v1.5h-3zM1096 1096h3v1.5h-3zM1086 1101h3v1.5h-3zM1084 1103h3v1.5h-3zM1089 1084h3v1.5h-3zM1087 1086h3v1.5h-3zM1092 1051h3v1.5h-3zM1093 1053h3v1.5h-3zM1119 1015h3v1.5h-3zM1122 1019h3v1.5h-3zM1110 1024h3v1.5h-3zM1126 962h3v1.5h-3zM1117 1004h3v1.5h-3zM1117 1005h3v1.5h-3zM1125 1002h3v1.5h-3zM1109 969h3v1.5h-3zM1122 1029h3v1.5h-3zM1130 978h3v1.5h-3zM1115 985h3v1.5h-3zM1132 1001h3v1.5h-3zM1117 1008h3v1.5h-3zM1121 983h3v1.5h-3zM1127 963h3v1.5h-3zM1109 1004h3v1.5h-3zM1130 974h3v1.5h-3zM1122 982h3v1.5h-3zM1115 963h3v1.5h-3zM1121 1001h3v1.5h-3zM1110 1021h3v1.5h-3zM1131 973h3v1.5h-3zM1105 1007h3v1.5h-3zM1119 995h3v1.5h-3zM1115 967h3v1.5h-3zM1115 992h3v1.5h-3zM1132 985h3v1.5h-3zM1119 1006h3v1.5h-3zM1116 987h3v1.5h-3zM1128 1011h3v1.5h-3zM1116 1002h3v1.5h-3zM1115 965h3v1.5h-3zM1121 1010h3v1.5h-3zM1114 972h3v1.5h-3zM1109 981h3v1.5h-3zM1105 1016h3v1.5h-3zM1106 973h3v1.5h-3zM1109 1013h3v1.5h-3zM1106 1011h3v1.5h-3zM1127 979h3v1.5h-3zM1132 963h3v1.5h-3zM1121 965h3v1.5h-3zM1107 964h3v1.5h-3zM1118 1016h3v1.5h-3zM1127 969h3v1.5h-3zM1116 1023h3v1.5h-3zM1131 977h3v1.5h-3zM1122 961h3v1.5h-3zM1106 1025h3v1.5h-3zM1108 1028h3v1.5h-3zM1126 985h3v1.5h-3zM1108 1018h3v1.5h-3zM1110 987h3v1.5h-3zM1125 961h3v1.5h-3zM1115 961h3v1.5h-3zM1118 1002h3v1.5h-3zM1137 1074h3v1.5h-3zM1145 960h3v1.5h-3zM1142 1083h3v1.5h-3zM1136 1086h3v1.5h-3zM1138 999h3v1.5h-3zM1135 1030h3v1.5h-3zM1142 1104h3v1.5h-3zM1139 991h3v1.5h-3zM1141 1042h3v1.5h-3zM1151 1088h3v1.5h-3zM1148 1097h3v1.5h-3zM1151 1077h3v1.5h-3zM1151 1090h3v1.5h-3zM1146 1107h3v1.5h-3zM1148 1085h3v1.5h-3zM1146 1080h3v1.5h-3zM1150 1092h3v1.5h-3zM1146 1080h3v1.5h-3zM1148 1085h3v1.5h-3zM1149 1083h3v1.5h-3zM1148 1073h3v1.5h-3zM1151 1074h3v1.5h-3zM1149 1101h3v1.5h-3zM1148 1103h3v1.5h-3zM1151 1080h3v1.5h-3zM1150 1079h3v1.5h-3zM1151 1085h3v1.5h-3zM1147 1082h3v1.5h-3zM1147 1088h3v1.5h-3zM1146 1077h3v1.5h-3zM1148 1102h3v1.5h-3zM1151 1111h3v1.5h-3zM1151 1082h3v1.5h-3zM1146 1082h3v1.5h-3zM1149 1075h3v1.5h-3zM1149 1096h3v1.5h-3zM1151 1110h3v1.5h-3zM1150 1110h3v1.5h-3zM1162 1100h3v1.5h-3zM1167 1077h3v1.5h-3zM1166 1090h3v1.5h-3zM1166 1063h3v1.5h-3zM1160 1074h3v1.5h-3zM1166 1093h3v1.5h-3zM1165 1088h3v1.5h-3zM1163 1045h3v1.5h-3zM1168 1039h3v1.5h-3zM1163 1068h3v1.5h-3zM1167 1056h3v1.5h-3zM1164 1049h3v1.5h-3zM1163 1043h3v1.5h-3zM1164 1099h3v1.5h-3zM1166 1097h3v1.5h-3zM1166 1104h3v1.5h-3zM1168 1070h3v1.5h-3zM1166 1098h3v1.5h-3zM1165 1082h3v1.5h-3zM1162 1052h3v1.5h-3zM1160 1075h3v1.5h-3zM1160 1049h3v1.5h-3zM1168 1105h3v1.5h-3zM1164 1075h3v1.5h-3zM1166 1058h3v1.5h-3zM1163 1044h3v1.5h-3zM1161 1098h3v1.5h-3zM1167 1099h3v1.5h-3zM1161 1073h3v1.5h-3zM1163 1096h3v1.5h-3zM1168 1075h3v1.5h-3zM1167 1090h3v1.5h-3zM1168 1092h3v1.5h-3zM1168 1066h3v1.5h-3zM1168 1055h3v1.5h-3zM1165 1071h3v1.5h-3zM1167 1077h3v1.5h-3zM1160 1045h3v1.5h-3zM1167 1061h3v1.5h-3zM1166 1091h3v1.5h-3zM1164 1051h3v1.5h-3zM1168 1044h3v1.5h-3zM1161 1061h3v1.5h-3zM1164 1080h3v1.5h-3zM1161 1098h3v1.5h-3zM1164 1074h3v1.5h-3zM1162 1082h3v1.5h-3zM1164 1055h3v1.5h-3zM1165 1096h3v1.5h-3zM1167 1082h3v1.5h-3zM1168 1040h3v1.5h-3zM1161 1068h3v1.5h-3zM1165 1107h3v1.5h-3zM1156 1109h3v1.5h-3zM1146 1111h3v1.5h-3zM1148 1109h3v1.5h-3zM1158 1104h3v1.5h-3zM1164 1102h3v1.5h-3zM1153 1097h3v1.5h-3zM1158 1104h3v1.5h-3zM1163 1102h3v1.5h-3zM1153 1103h3v1.5h-3zM1152 1097h3v1.5h-3zM1150 1097h3v1.5h-3zM1147 1114h3v1.5h-3zM1157 1111h3v1.5h-3zM1156 1112h3v1.5h-3zM1162 1102h3v1.5h-3zM1159 1098h3v1.5h-3zM1165 1102h3v1.5h-3zM1160 1114h3v1.5h-3zM1146 1107h3v1.5h-3zM1165 1109h3v1.5h-3zM1157 1114h3v1.5h-3zM1154 1098h3v1.5h-3zM1157 1099h3v1.5h-3zM1146 1111h3v1.5h-3zM1149 1099h3v1.5h-3zM1148 1097h3v1.5h-3zM1151 1098h3v1.5h-3zM1156 1108h3v1.5h-3zM1165 1107h3v1.5h-3zM1159 1113h3v1.5h-3zM1162 1097h3v1.5h-3zM1148 1101h3v1.5h-3zM1151 1112h3v1.5h-3zM1153 1102h3v1.5h-3zM1165 1096h3v1.5h-3zM1165 1103h3v1.5h-3zM1159 1111h3v1.5h-3zM1160 1104h3v1.5h-3zM1153 1098h3v1.5h-3zM1151 1112h3v1.5h-3zM1149 1112h3v1.5h-3zM1157 1100h3v1.5h-3zM1149 1105h3v1.5h-3zM1157 1104h3v1.5h-3zM1154 1104h3v1.5h-3zM1146 1113h3v1.5h-3zM1154 1110h3v1.5h-3zM1161 1110h3v1.5h-3zM1162 1110h3v1.5h-3zM1147 1106h3v1.5h-3zM1153 1108h3v1.5h-3zM1161 1110h3v1.5h-3zM1159 1099h3v1.5h-3zM1155 1105h3v1.5h-3zM1164 1103h3v1.5h-3zM1149 1113h3v1.5h-3zM1147 1108h3v1.5h-3zM1172 680h3v1.5h-3zM1191 683h3v1.5h-3zM1197 678h3v1.5h-3zM1181 684h3v1.5h-3zM1185 683h3v1.5h-3zM1220 680h3v1.5h-3zM1192 684h3v1.5h-3zM1169 684h3v1.5h-3zM1217 680h3v1.5h-3zM1176 680h3v1.5h-3zM1170 681h3v1.5h-3zM1186 684h3v1.5h-3zM1210 680h3v1.5h-3zM1197 684h3v1.5h-3zM1206 682h3v1.5h-3zM1206 685h3v1.5h-3zM1220 685h3v1.5h-3zM1180 682h3v1.5h-3zM1178 685h3v1.5h-3zM1207 677h3v1.5h-3zM1186 683h3v1.5h-3zM1206 683h3v1.5h-3zM1190 680h3v1.5h-3zM1192 684h3v1.5h-3zM1171 681h3v1.5h-3zM1225 678h3v1.5h-3zM1172 681h3v1.5h-3zM1195 684h3v1.5h-3zM1206 681h3v1.5h-3zM1214 683h3v1.5h-3zM1222 679h3v1.5h-3zM1186 851h3v1.5h-3zM1186 854h3v1.5h-3zM1195 741h3v1.5h-3zM1190 686h3v1.5h-3zM1168 738h3v1.5h-3zM1199 857h3v1.5h-3zM1180 869h3v1.5h-3zM1190 736h3v1.5h-3zM1181 742h3v1.5h-3zM1182 738h3v1.5h-3zM1178 686h3v1.5h-3zM1184 879h3v1.5h-3zM1170 735h3v1.5h-3zM1202 753h3v1.5h-3zM1173 707h3v1.5h-3zM1196 856h3v1.5h-3zM1182 746h3v1.5h-3zM1167 871h3v1.5h-3zM1181 706h3v1.5h-3zM1207 816h3v1.5h-3zM1204 724h3v1.5h-3zM1202 763h3v1.5h-3zM1206 752h3v1.5h-3zM1205 767h3v1.5h-3zM1175 777h3v1.5h-3zM1186 812h3v1.5h-3zM1182 778h3v1.5h-3zM1191 835h3v1.5h-3zM1178 780h3v1.5h-3zM1187 796h3v1.5h-3zM1194 843h3v1.5h-3zM1188 825h3v1.5h-3zM1198 740h3v1.5h-3zM1199 777h3v1.5h-3zM1177 696h3v1.5h-3zM1187 805h3v1.5h-3zM1178 800h3v1.5h-3zM1196 717h3v1.5h-3zM1186 734h3v1.5h-3zM1175 790h3v1.5h-3zM1181 819h3v1.5h-3zM1181 730h3v1.5h-3zM1197 838h3v1.5h-3zM1176 724h3v1.5h-3zM1193 745h3v1.5h-3zM1193 742h3v1.5h-3zM1178 867h3v1.5h-3zM1181 873h3v1.5h-3zM1206 775h3v1.5h-3zM1194 688h3v1.5h-3zM1199 834h3v1.5h-3zM1180 858h3v1.5h-3zM1199 733h3v1.5h-3zM1186 806h3v1.5h-3zM1178 783h3v1.5h-3zM1196 702h3v1.5h-3zM1201 707h3v1.5h-3zM1185 796h3v1.5h-3zM1179 686h3v1.5h-3zM1174 848h3v1.5h-3zM1178 697h3v1.5h-3zM1201 814h3v1.5h-3zM1201 703h3v1.5h-3zM1184 841h3v1.5h-3zM1198 805h3v1.5h-3zM1171 700h3v1.5h-3zM1185 801h3v1.5h-3zM1191 829h3v1.5h-3zM1167 802h3v1.5h-3zM1182 877h3v1.5h-3zM1182 729h3v1.5h-3zM1180 745h3v1.5h-3zM1192 842h3v1.5h-3zM1167 746h3v1.5h-3zM1192 821h3v1.5h-3zM1175 710h3v1.5h-3zM1204 833h3v1.5h-3zM1191 765h3v1.5h-3zM1180 872h3v1.5h-3zM1180 752h3v1.5h-3zM1191 778h3v1.5h-3zM1172 837h3v1.5h-3zM1179 797h3v1.5h-3zM1181 701h3v1.5h-3zM1171 684h3v1.5h-3zM1176 710h3v1.5h-3zM1176 763h3v1.5h-3zM1182 872h3v1.5h-3zM1199 719h3v1.5h-3zM1178 726h3v1.5h-3zM1186 684h3v1.5h-3zM1169 804h3v1.5h-3zM1176 756h3v1.5h-3zM1198 713h3v1.5h-3zM1189 803h3v1.5h-3zM1199 859h3v1.5h-3zM1177 730h3v1.5h-3zM1185 683h3v1.5h-3zM1170 788h3v1.5h-3zM1175 879h3v1.5h-3zM1170 861h3v1.5h-3zM1182 794h3v1.5h-3zM1187 822h3v1.5h-3zM1195 777h3v1.5h-3zM1207 846h3v1.5h-3zM1187 781h3v1.5h-3zM1182 709h3v1.5h-3zM1175 705h3v1.5h-3zM1181 813h3v1.5h-3zM1192 768h3v1.5h-3zM1178 863h3v1.5h-3zM1206 806h3v1.5h-3zM1171 749h3v1.5h-3zM1188 814h3v1.5h-3zM1180 712h3v1.5h-3zM1180 797h3v1.5h-3zM1206 808h3v1.5h-3zM1183 847h3v1.5h-3zM1194 748h3v1.5h-3zM1185 799h3v1.5h-3zM1176 723h3v1.5h-3zM1185 715h3v1.5h-3zM1182 734h3v1.5h-3zM1168 836h3v1.5h-3zM1206 744h3v1.5h-3zM1194 781h3v1.5h-3zM1186 840h3v1.5h-3zM1174 751h3v1.5h-3zM1195 828h3v1.5h-3zM1193 852h3v1.5h-3zM1192 845h3v1.5h-3zM1187 817h3v1.5h-3zM1189 853h3v1.5h-3zM1186 757h3v1.5h-3zM1172 818h3v1.5h-3zM1194 771h3v1.5h-3zM1192 725h3v1.5h-3zM1190 835h3v1.5h-3zM1185 715h3v1.5h-3zM1190 730h3v1.5h-3zM1181 790h3v1.5h-3zM1206 716h3v1.5h-3zM1193 858h3v1.5h-3zM1192 873h3v1.5h-3zM1205 687h3v1.5h-3zM1196 826h3v1.5h-3zM1201 844h3v1.5h-3zM1200 776h3v1.5h-3zM1167 703h3v1.5h-3zM1185 715h3v1.5h-3zM1195 774h3v1.5h-3zM1202 839h3v1.5h-3zM1203 812h3v1.5h-3zM1168 813h3v1.5h-3zM1169 865h3v1.5h-3zM1192 855h3v1.5h-3zM1173 821h3v1.5h-3zM1178 697h3v1.5h-3zM1204 707h3v1.5h-3zM1207 792h3v1.5h-3zM1199 824h3v1.5h-3zM1204 719h3v1.5h-3zM1197 834h3v1.5h-3zM1170 696h3v1.5h-3zM1189 758h3v1.5h-3zM1202 851h3v1.5h-3zM1195 787h3v1.5h-3zM1199 789h3v1.5h-3zM1175 690h3v1.5h-3zM1178 732h3v1.5h-3zM1201 830h3v1.5h-3zM1195 801h3v1.5h-3zM1176 836h3v1.5h-3zM1206 806h3v1.5h-3zM1187 780h3v1.5h-3zM1168 730h3v1.5h-3zM1197 706h3v1.5h-3zM1181 838h3v1.5h-3zM1181 734h3v1.5h-3zM1193 799h3v1.5h-3zM1188 849h3v1.5h-3zM1204 786h3v1.5h-3zM1187 723h3v1.5h-3zM1175 736h3v1.5h-3zM1181 718h3v1.5h-3zM1170 825h3v1.5h-3zM1219 784h3v1.5h-3zM1214 765h3v1.5h-3zM1211 793h3v1.5h-3zM1208 721h3v1.5h-3zM1212 715h3v1.5h-3zM1217 760h3v1.5h-3zM1219 854h3v1.5h-3zM1221 821h3v1.5h-3zM1223 724h3v1.5h-3zM1220 718h3v1.5h-3zM1215 746h3v1.5h-3zM1225 842h3v1.5h-3zM1209 798h3v1.5h-3zM1217 850h3v1.5h-3zM1211 708h3v1.5h-3zM1214 850h3v1.5h-3zM1211 765h3v1.5h-3zM1211 785h3v1.5h-3zM1217 792h3v1.5h-3zM1217 714h3v1.5h-3zM1208 695h3v1.5h-3zM1211 872h3v1.5h-3zM1221 766h3v1.5h-3zM1217 836h3v1.5h-3zM1222 819h3v1.5h-3zM1221 834h3v1.5h-3zM1218 751h3v1.5h-3zM1214 784h3v1.5h-3zM1209 752h3v1.5h-3zM1220 849h3v1.5h-3zM1217 734h3v1.5h-3zM1209 713h3v1.5h-3zM1223 869h3v1.5h-3zM1212 863h3v1.5h-3zM1212 862h3v1.5h-3zM1216 830h3v1.5h-3zM1213 788h3v1.5h-3zM1214 723h3v1.5h-3zM1221 857h3v1.5h-3zM1212 878h3v1.5h-3zM1213 858h3v1.5h-3zM1220 725h3v1.5h-3zM1225 838h3v1.5h-3zM1208 729h3v1.5h-3zM1215 695h3v1.5h-3zM1215 817h3v1.5h-3zM1209 692h3v1.5h-3zM1217 792h3v1.5h-3zM1215 727h3v1.5h-3zM1222 785h3v1.5h-3zM1211 799h3v1.5h-3zM1224 799h3v1.5h-3zM1219 768h3v1.5h-3zM1216 765h3v1.5h-3zM1212 769h3v1.5h-3zM1223 863h3v1.5h-3zM1214 705h3v1.5h-3zM1225 877h3v1.5h-3zM1219 754h3v1.5h-3zM1223 786h3v1.5h-3zM1210 820h3v1.5h-3zM1220 735h3v1.5h-3zM1211 752h3v1.5h-3zM1219 749h3v1.5h-3zM1208 792h3v1.5h-3zM1213 761h3v1.5h-3zM1214 854h3v1.5h-3zM1220 822h3v1.5h-3zM1222 819h3v1.5h-3zM1217 719h3v1.5h-3zM1210 734h3v1.5h-3zM1209 694h3v1.5h-3zM1208 736h3v1.5h-3zM1214 844h3v1.5h-3zM1215 780h3v1.5h-3zM1215 855h3v1.5h-3zM1217 820h3v1.5h-3zM1225 803h3v1.5h-3zM1215 834h3v1.5h-3zM1225 816h3v1.5h-3zM1219 714h3v1.5h-3zM1215 730h3v1.5h-3zM1213 858h3v1.5h-3zM1208 790h3v1.5h-3zM1223 839h3v1.5h-3zM1215 728h3v1.5h-3zM1212 849h3v1.5h-3zM1217 795h3v1.5h-3zM1224 702h3v1.5h-3zM1212 768h3v1.5h-3zM1215 873h3v1.5h-3zM1215 698h3v1.5h-3zM1213 763h3v1.5h-3zM1220 867h3v1.5h-3zM1224 858h3v1.5h-3zM1213 738h3v1.5h-3zM1208 805h3v1.5h-3zM1210 786h3v1.5h-3zM1208 849h3v1.5h-3zM1212 863h3v1.5h-3zM1209 841h3v1.5h-3zM1217 852h3v1.5h-3zM1222 797h3v1.5h-3zM1212 832h3v1.5h-3zM1223 870h3v1.5h-3zM1221 860h3v1.5h-3zM1225 798h3v1.5h-3zM1218 708h3v1.5h-3zM1209 867h3v1.5h-3zM1220 763h3v1.5h-3zM1220 824h3v1.5h-3zM1216 842h3v1.5h-3zM1215 823h3v1.5h-3zM1218 820h3v1.5h-3zM1212 752h3v1.5h-3zM1209 721h3v1.5h-3zM1216 834h3v1.5h-3zM1210 779h3v1.5h-3zM1217 737h3v1.5h-3zM1214 798h3v1.5h-3zM1224 825h3v1.5h-3zM1225 703h3v1.5h-3zM1225 692h3v1.5h-3zM1212 718h3v1.5h-3zM1219 839h3v1.5h-3zM1225 751h3v1.5h-3zM1222 769h3v1.5h-3zM1209 708h3v1.5h-3zM1211 828h3v1.5h-3zM1219 841h3v1.5h-3zM1216 738h3v1.5h-3zM1209 748h3v1.5h-3zM1209 785h3v1.5h-3zM1219 743h3v1.5h-3zM1208 841h3v1.5h-3zM1225 802h3v1.5h-3zM1215 805h3v1.5h-3zM1220 733h3v1.5h-3zM1219 800h3v1.5h-3zM1218 777h3v1.5h-3zM1211 691h3v1.5h-3zM1225 725h3v1.5h-3zM1225 787h3v1.5h-3zM1223 832h3v1.5h-3zM1221 738h3v1.5h-3zM1224 714h3v1.5h-3zM1223 826h3v1.5h-3zM1222 785h3v1.5h-3zM1213 806h3v1.5h-3zM1222 712h3v1.5h-3zM1223 747h3v1.5h-3zM1211 848h3v1.5h-3zM1218 837h3v1.5h-3zM1214 859h3v1.5h-3zM1210 737h3v1.5h-3zM1212 711h3v1.5h-3zM1213 711h3v1.5h-3zM1213 826h3v1.5h-3zM1215 877h3v1.5h-3zM1215 804h3v1.5h-3zM1208 709h3v1.5h-3zM1214 879h3v1.5h-3zM1225 834h3v1.5h-3zM1212 874h3v1.5h-3zM1209 739h3v1.5h-3zM1218 779h3v1.5h-3zM1212 822h3v1.5h-3zM1225 806h3v1.5h-3zM1225 704h3v1.5h-3zM1210 711h3v1.5h-3zM1168 692h3v1.5h-3zM1214 693h3v1.5h-3zM1199 688h3v1.5h-3zM1176 699h3v1.5h-3zM1182 704h3v1.5h-3zM1178 692h3v1.5h-3zM1200 690h3v1.5h-3zM1204 696h3v1.5h-3zM1221 688h3v1.5h-3zM1200 707h3v1.5h-3zM1221 705h3v1.5h-3zM1173 707h3v1.5h-3zM1208 684h3v1.5h-3zM1205 694h3v1.5h-3zM1222 690h3v1.5h-3zM1193 702h3v1.5h-3zM1211 707h3v1.5h-3zM1173 696h3v1.5h-3zM1214 710h3v1.5h-3zM1207 685h3v1.5h-3zM1174 714h3v1.5h-3zM1196 707h3v1.5h-3zM1223 681h3v1.5h-3zM1193 689h3v1.5h-3zM1204 713h3v1.5h-3zM1224 713h3v1.5h-3zM1171 702h3v1.5h-3zM1168 701h3v1.5h-3zM1191 683h3v1.5h-3zM1191 687h3v1.5h-3zM1213 697h3v1.5h-3zM1181 708h3v1.5h-3zM1195 704h3v1.5h-3zM1205 700h3v1.5h-3zM1186 696h3v1.5h-3zM1225 712h3v1.5h-3zM1186 719h3v1.5h-3zM1172 717h3v1.5h-3zM1191 687h3v1.5h-3zM1208 683h3v1.5h-3zM1216 697h3v1.5h-3zM1201 719h3v1.5h-3zM1189 709h3v1.5h-3zM1203 717h3v1.5h-3zM1198 705h3v1.5h-3zM1196 704h3v1.5h-3zM1173 691h3v1.5h-3zM1214 697h3v1.5h-3zM1173 696h3v1.5h-3zM1218 682h3v1.5h-3zM1211 718h3v1.5h-3zM1204 906h3v1.5h-3zM1175 886h3v1.5h-3zM1201 888h3v1.5h-3zM1174 914h3v1.5h-3zM1180 936h3v1.5h-3zM1198 910h3v1.5h-3zM1178 916h3v1.5h-3zM1206 914h3v1.5h-3zM1205 914h3v1.5h-3zM1209 958h3v1.5h-3zM1184 916h3v1.5h-3zM1197 882h3v1.5h-3zM1192 922h3v1.5h-3zM1192 917h3v1.5h-3zM1196 884h3v1.5h-3zM1163 934h3v1.5h-3zM1204 955h3v1.5h-3zM1200 958h3v1.5h-3zM1193 895h3v1.5h-3zM1174 929h3v1.5h-3zM1173 903h3v1.5h-3zM1187 911h3v1.5h-3zM1178 913h3v1.5h-3zM1207 897h3v1.5h-3zM1207 940h3v1.5h-3zM1187 929h3v1.5h-3zM1179 895h3v1.5h-3zM1171 915h3v1.5h-3zM1199 884h3v1.5h-3zM1163 938h3v1.5h-3zM1186 884h3v1.5h-3zM1170 892h3v1.5h-3zM1181 916h3v1.5h-3zM1206 955h3v1.5h-3zM1178 948h3v1.5h-3zM1169 936h3v1.5h-3zM1195 913h3v1.5h-3zM1168 895h3v1.5h-3zM1186 949h3v1.5h-3zM1201 894h3v1.5h-3zM1173 884h3v1.5h-3zM1201 942h3v1.5h-3zM1163 890h3v1.5h-3zM1201 952h3v1.5h-3zM1199 898h3v1.5h-3zM1192 893h3v1.5h-3zM1209 934h3v1.5h-3zM1202 886h3v1.5h-3zM1177 905h3v1.5h-3zM1195 891h3v1.5h-3zM1189 938h3v1.5h-3zM1174 916h3v1.5h-3zM1169 891h3v1.5h-3zM1204 941h3v1.5h-3zM1195 906h3v1.5h-3zM1168 897h3v1.5h-3zM1199 935h3v1.5h-3zM1167 937h3v1.5h-3zM1199 922h3v1.5h-3zM1201 947h3v1.5h-3zM1168 932h3v1.5h-3zM1204 947h3v1.5h-3zM1166 899h3v1.5h-3zM1167 906h3v1.5h-3zM1166 940h3v1.5h-3zM1194 889h3v1.5h-3zM1182 924h3v1.5h-3zM1164 933h3v1.5h-3zM1174 896h3v1.5h-3zM1196 897h3v1.5h-3zM1187 904h3v1.5h-3zM1168 929h3v1.5h-3zM1176 937h3v1.5h-3zM1197 943h3v1.5h-3zM1178 937h3v1.5h-3zM1203 909h3v1.5h-3zM1185 929h3v1.5h-3zM1206 884h3v1.5h-3zM1184 914h3v1.5h-3zM1203 939h3v1.5h-3zM1175 952h3v1.5h-3zM1186 898h3v1.5h-3zM1170 925h3v1.5h-3zM1209 921h3v1.5h-3zM1180 892h3v1.5h-3zM1204 930h3v1.5h-3zM1168 909h3v1.5h-3zM1197 885h3v1.5h-3zM1194 935h3v1.5h-3zM1187 937h3v1.5h-3zM1183 922h3v1.5h-3zM1205 887h3v1.5h-3zM1206 922h3v1.5h-3zM1208 949h3v1.5h-3zM1206 908h3v1.5h-3zM1204 927h3v1.5h-3zM1209 958h3v1.5h-3zM1202 894h3v1.5h-3zM1180 893h3v1.5h-3zM1173 899h3v1.5h-3zM1185 927h3v1.5h-3zM1172 895h3v1.5h-3zM1197 953h3v1.5h-3zM1208 942h3v1.5h-3zM1180 927h3v1.5h-3zM1190 888h3v1.5h-3zM1207 909h3v1.5h-3zM1180 952h3v1.5h-3zM1166 918h3v1.5h-3zM1190 924h3v1.5h-3zM1209 927h3v1.5h-3zM1179 926h3v1.5h-3zM1171 884h3v1.5h-3zM1190 916h3v1.5h-3zM1183 940h3v1.5h-3zM1177 920h3v1.5h-3zM1183 881h3v1.5h-3zM1189 943h3v1.5h-3zM1165 947h3v1.5h-3zM1179 897h3v1.5h-3zM1204 941h3v1.5h-3zM1199 924h3v1.5h-3zM1188 917h3v1.5h-3zM1165 955h3v1.5h-3zM1194 904h3v1.5h-3zM1180 886h3v1.5h-3zM1201 936h3v1.5h-3zM1166 915h3v1.5h-3zM1193 942h3v1.5h-3zM1165 921h3v1.5h-3zM1164 901h3v1.5h-3zM1192 938h3v1.5h-3zM1183 941h3v1.5h-3zM1171 946h3v1.5h-3zM1201 924h3v1.5h-3zM1196 932h3v1.5h-3zM1200 912h3v1.5h-3zM1193 928h3v1.5h-3zM1189 945h3v1.5h-3zM1208 906h3v1.5h-3zM1188 909h3v1.5h-3zM1167 933h3v1.5h-3zM1173 892h3v1.5h-3zM1163 924h3v1.5h-3zM1203 897h3v1.5h-3zM1196 936h3v1.5h-3zM1173 903h3v1.5h-3zM1177 902h3v1.5h-3zM1179 899h3v1.5h-3zM1189 894h3v1.5h-3zM1209 930h3v1.5h-3zM1209 959h3v1.5h-3zM1204 958h3v1.5h-3zM1188 929h3v1.5h-3zM1199 935h3v1.5h-3zM1172 897h3v1.5h-3zM1188 899h3v1.5h-3zM1185 957h3v1.5h-3zM1199 943h3v1.5h-3zM1185 960h3v1.5h-3zM1170 1002h3v1.5h-3zM1184 1005h3v1.5h-3zM1175 993h3v1.5h-3zM1181 1059h3v1.5h-3zM1177 1010h3v1.5h-3zM1183 1060h3v1.5h-3zM1171 1042h3v1.5h-3zM1165 1041h3v1.5h-3zM1183 1013h3v1.5h-3zM1167 994h3v1.5h-3zM1166 991h3v1.5h-3zM1167 1072h3v1.5h-3zM1170 1020h3v1.5h-3zM1170 975h3v1.5h-3zM1189 1049h3v1.5h-3zM1183 998h3v1.5h-3zM1178 1053h3v1.5h-3zM1189 966h3v1.5h-3zM1163 1043h3v1.5h-3zM1171 1060h3v1.5h-3zM1175 973h3v1.5h-3zM1163 981h3v1.5h-3zM1171 1083h3v1.5h-3zM1188 1050h3v1.5h-3zM1168 1070h3v1.5h-3zM1173 1069h3v1.5h-3zM1168 1053h3v1.5h-3zM1179 1029h3v1.5h-3zM1171 1019h3v1.5h-3zM1184 994h3v1.5h-3zM1172 970h3v1.5h-3zM1185 1015h3v1.5h-3zM1176 1043h3v1.5h-3zM1166 974h3v1.5h-3zM1180 1072h3v1.5h-3zM1188 974h3v1.5h-3zM1163 997h3v1.5h-3zM1169 1018h3v1.5h-3zM1186 1041h3v1.5h-3zM1176 1002h3v1.5h-3zM1168 1007h3v1.5h-3zM1174 962h3v1.5h-3zM1168 996h3v1.5h-3zM1164 1050h3v1.5h-3zM1166 1066h3v1.5h-3zM1177 1063h3v1.5h-3zM1185 1072h3v1.5h-3zM1180 977h3v1.5h-3zM1166 1057h3v1.5h-3zM1184 1026h3v1.5h-3zM1189 1042h3v1.5h-3zM1174 966h3v1.5h-3zM1172 964h3v1.5h-3zM1187 1059h3v1.5h-3zM1178 968h3v1.5h-3zM1166 979h3v1.5h-3zM1184 991h3v1.5h-3zM1179 1072h3v1.5h-3zM1189 1072h3v1.5h-3zM1184 995h3v1.5h-3zM1171 999h3v1.5h-3zM1174 991h3v1.5h-3zM1164 969h3v1.5h-3zM1173 985h3v1.5h-3zM1176 984h3v1.5h-3zM1171 1017h3v1.5h-3zM1163 1024h3v1.5h-3zM1165 978h3v1.5h-3zM1181 1032h3v1.5h-3zM1190 967h3v1.5h-3zM1189 1074h3v1.5h-3zM1182 994h3v1.5h-3zM1179 1082h3v1.5h-3zM1188 1030h3v1.5h-3zM1179 983h3v1.5h-3zM1170 1081h3v1.5h-3zM1188 1051h3v1.5h-3zM1164 1067h3v1.5h-3zM1190 993h3v1.5h-3zM1168 1066h3v1.5h-3zM1188 1002h3v1.5h-3zM1179 1068h3v1.5h-3zM1174 967h3v1.5h-3zM1163 1032h3v1.5h-3zM1164 961h3v1.5h-3zM1165 966h3v1.5h-3zM1186 994h3v1.5h-3zM1164 998h3v1.5h-3zM1176 1023h3v1.5h-3zM1167 1021h3v1.5h-3zM1185 1068h3v1.5h-3zM1187 1032h3v1.5h-3zM1170 1055h3v1.5h-3zM1199 974h3v1.5h-3zM1201 965h3v1.5h-3zM1200 979h3v1.5h-3zM1208 991h3v1.5h-3zM1191 986h3v1.5h-3zM1196 994h3v1.5h-3zM1198 998h3v1.5h-3zM1207 980h3v1.5h-3zM1206 972h3v1.5h-3zM1204 970h3v1.5h-3zM1196 971h3v1.5h-3zM1194 978h3v1.5h-3zM1201 969h3v1.5h-3zM1226 840h3v1.5h-3zM1229 787h3v1.5h-3zM1230 866h3v1.5h-3zM1226 867h3v1.5h-3zM1229 794h3v1.5h-3zM1228 790h3v1.5h-3zM1228 815h3v1.5h-3zM1230 805h3v1.5h-3zM1228 812h3v1.5h-3zM1227 792h3v1.5h-3zM1228 864h3v1.5h-3zM1227 831h3v1.5h-3zM1227 815h3v1.5h-3zM1227 834h3v1.5h-3zM1227 837h3v1.5h-3zM1230 869h3v1.5h-3zM1223 952h3v1.5h-3zM1228 1018h3v1.5h-3zM1231 1036h3v1.5h-3zM1226 1102h3v1.5h-3zM1235 896h3v1.5h-3zM1227 1014h3v1.5h-3zM1227 1096h3v1.5h-3zM1235 922h3v1.5h-3zM1226 1060h3v1.5h-3zM1232 933h3v1.5h-3zM1229 1031h3v1.5h-3zM1226 932h3v1.5h-3zM1235 917h3v1.5h-3zM1224 983h3v1.5h-3zM1236 953h3v1.5h-3zM1229 1081h3v1.5h-3zM1223 949h3v1.5h-3zM1223 930h3v1.5h-3zM1232 1012h3v1.5h-3zM1235 897h3v1.5h-3zM1231 1089h3v1.5h-3zM1231 1024h3v1.5h-3zM1226 898h3v1.5h-3zM1233 1085h3v1.5h-3zM1226 1041h3v1.5h-3zM1231 1045h3v1.5h-3zM1229 928h3v1.5h-3zM1225 952h3v1.5h-3zM1227 894h3v1.5h-3zM1236 1045h3v1.5h-3zM1231 1087h3v1.5h-3zM1228 976h3v1.5h-3zM1231 1041h3v1.5h-3zM1223 1085h3v1.5h-3zM1230 1076h3v1.5h-3zM1227 977h3v1.5h-3zM1235 1002h3v1.5h-3zM1226 985h3v1.5h-3zM1226 936h3v1.5h-3zM1225 1058h3v1.5h-3zM1229 904h3v1.5h-3zM1225 1072h3v1.5h-3zM1224 1068h3v1.5h-3zM1227 1030h3v1.5h-3zM1233 1028h3v1.5h-3zM1229 1029h3v1.5h-3zM1233 905h3v1.5h-3zM1228 900h3v1.5h-3zM1226 885h3v1.5h-3zM1230 962h3v1.5h-3zM1228 1056h3v1.5h-3zM1224 910h3v1.5h-3zM1228 958h3v1.5h-3zM1229 999h3v1.5h-3zM1225 1075h3v1.5h-3zM1227 962h3v1.5h-3zM1230 1103h3v1.5h-3zM1232 1021h3v1.5h-3zM1223 1059h3v1.5h-3zM1225 926h3v1.5h-3zM1230 1045h3v1.5h-3zM1226 1052h3v1.5h-3zM1226 1040h3v1.5h-3zM1234 935h3v1.5h-3zM1232 910h3v1.5h-3zM1232 1087h3v1.5h-3zM1223 1078h3v1.5h-3zM1226 999h3v1.5h-3zM1234 985h3v1.5h-3zM1229 1062h3v1.5h-3zM1236 944h3v1.5h-3zM1227 1098h3v1.5h-3zM1236 1060h3v1.5h-3zM1234 1086h3v1.5h-3zM1232 1038h3v1.5h-3zM1235 1051h3v1.5h-3zM1224 1071h3v1.5h-3zM1234 885h3v1.5h-3zM1232 962h3v1.5h-3zM1226 1056h3v1.5h-3zM1224 883h3v1.5h-3zM1223 979h3v1.5h-3zM1227 1073h3v1.5h-3zM1229 898h3v1.5h-3zM1226 1078h3v1.5h-3zM1231 968h3v1.5h-3zM1230 1075h3v1.5h-3zM1235 1087h3v1.5h-3zM1225 1062h3v1.5h-3zM1230 1011h3v1.5h-3zM1230 950h3v1.5h-3zM1235 1013h3v1.5h-3zM1223 924h3v1.5h-3zM1223 1047h3v1.5h-3zM1225 981h3v1.5h-3zM1233 1084h3v1.5h-3zM1240 683h3v1.5h-3zM1242 710h3v1.5h-3zM1242 685h3v1.5h-3zM1240 709h3v1.5h-3zM1242 873h3v1.5h-3zM1238 905h3v1.5h-3zM1240 913h3v1.5h-3zM1240 825h3v1.5h-3zM1241 856h3v1.5h-3zM1243 921h3v1.5h-3zM1240 746h3v1.5h-3zM1244 749h3v1.5h-3zM1243 828h3v1.5h-3zM1243 821h3v1.5h-3zM1238 886h3v1.5h-3zM1238 758h3v1.5h-3zM1240 855h3v1.5h-3zM1241 918h3v1.5h-3zM1242 775h3v1.5h-3zM1243 757h3v1.5h-3zM1240 909h3v1.5h-3zM1243 796h3v1.5h-3zM1240 868h3v1.5h-3zM1239 767h3v1.5h-3zM1241 771h3v1.5h-3zM1240 873h3v1.5h-3zM1241 785h3v1.5h-3zM1244 866h3v1.5h-3zM1242 856h3v1.5h-3zM1244 782h3v1.5h-3zM1241 864h3v1.5h-3zM1239 756h3v1.5h-3zM1243 876h3v1.5h-3zM1238 899h3v1.5h-3zM1244 931h3v1.5h-3zM1243 830h3v1.5h-3zM1241 828h3v1.5h-3zM1240 824h3v1.5h-3zM1238 749h3v1.5h-3zM1238 911h3v1.5h-3zM1242 807h3v1.5h-3zM1243 796h3v1.5h-3zM1244 929h3v1.5h-3zM1238 890h3v1.5h-3zM1243 908h3v1.5h-3zM1241 780h3v1.5h-3zM1239 830h3v1.5h-3zM1244 785h3v1.5h-3zM1240 840h3v1.5h-3zM1239 740h3v1.5h-3zM1243 798h3v1.5h-3zM1240 788h3v1.5h-3zM1241 774h3v1.5h-3zM1240 757h3v1.5h-3zM1242 846h3v1.5h-3zM1241 773h3v1.5h-3zM1241 740h3v1.5h-3zM1238 754h3v1.5h-3zM1242 838h3v1.5h-3zM1245 1084h3v1.5h-3zM1240 988h3v1.5h-3zM1245 1046h3v1.5h-3zM1246 999h3v1.5h-3zM1237 1088h3v1.5h-3zM1237 1012h3v1.5h-3zM1240 1065h3v1.5h-3zM1241 1096h3v1.5h-3zM1246 967h3v1.5h-3zM1242 1034h3v1.5h-3zM1240 1007h3v1.5h-3zM1240 943h3v1.5h-3zM1246 986h3v1.5h-3zM1245 1096h3v1.5h-3zM1238 1051h3v1.5h-3zM1238 1037h3v1.5h-3zM1246 967h3v1.5h-3zM1246 1072h3v1.5h-3zM1239 1105h3v1.5h-3zM1239 1100h3v1.5h-3zM1242 1058h3v1.5h-3zM1243 1014h3v1.5h-3zM1242 1058h3v1.5h-3zM1244 992h3v1.5h-3zM1244 1029h3v1.5h-3zM1241 1061h3v1.5h-3zM1237 1030h3v1.5h-3zM1243 1078h3v1.5h-3zM1245 960h3v1.5h-3zM1245 971h3v1.5h-3zM1241 1079h3v1.5h-3zM1239 984h3v1.5h-3zM1246 1090h3v1.5h-3zM1237 1049h3v1.5h-3zM1240 1008h3v1.5h-3zM1238 966h3v1.5h-3zM1240 955h3v1.5h-3zM1240 1057h3v1.5h-3zM1238 945h3v1.5h-3zM1271 861h3v1.5h-3zM1268 908h3v1.5h-3zM1272 834h3v1.5h-3zM1273 982h3v1.5h-3zM1269 831h3v1.5h-3zM1270 838h3v1.5h-3zM1269 995h3v1.5h-3zM1273 955h3v1.5h-3zM1271 939h3v1.5h-3zM1271 842h3v1.5h-3zM1273 852h3v1.5h-3zM1269 861h3v1.5h-3zM1267 929h3v1.5h-3zM1273 956h3v1.5h-3zM1269 902h3v1.5h-3zM1256 887h3v1.5h-3zM1271 924h3v1.5h-3zM1281 925h3v1.5h-3zM1273 908h3v1.5h-3zM1253 925h3v1.5h-3zM1283 881h3v1.5h-3zM1264 882h3v1.5h-3zM1282 874h3v1.5h-3zM1267 913h3v1.5h-3zM1266 870h3v1.5h-3zM1274 889h3v1.5h-3zM1278 905h3v1.5h-3zM1268 878h3v1.5h-3zM1255 878h3v1.5h-3zM1248 897h3v1.5h-3zM1268 920h3v1.5h-3zM1281 903h3v1.5h-3zM1254 905h3v1.5h-3zM1269 904h3v1.5h-3zM1248 924h3v1.5h-3zM1273 921h3v1.5h-3zM1257 943h3v1.5h-3zM1279 938h3v1.5h-3zM1254 999h3v1.5h-3zM1275 957h3v1.5h-3zM1261 998h3v1.5h-3zM1263 983h3v1.5h-3zM1269 931h3v1.5h-3zM1255 994h3v1.5h-3zM1273 992h3v1.5h-3zM1256 969h3v1.5h-3zM1283 977h3v1.5h-3zM1259 966h3v1.5h-3zM1253 971h3v1.5h-3zM1273 977h3v1.5h-3zM1276 986h3v1.5h-3zM1251 955h3v1.5h-3zM1264 935h3v1.5h-3zM1251 947h3v1.5h-3zM1272 973h3v1.5h-3zM1252 956h3v1.5h-3zM1275 966h3v1.5h-3zM1265 951h3v1.5h-3zM1269 970h3v1.5h-3zM1254 967h3v1.5h-3zM1267 936h3v1.5h-3zM1283 960h3v1.5h-3zM1259 984h3v1.5h-3zM1270 948h3v1.5h-3zM1256 951h3v1.5h-3zM1283 972h3v1.5h-3zM1281 969h3v1.5h-3zM1271 939h3v1.5h-3zM1255 975h3v1.5h-3zM1283 995h3v1.5h-3zM1259 966h3v1.5h-3zM1274 955h3v1.5h-3zM1281 952h3v1.5h-3zM1248 994h3v1.5h-3zM1249 969h3v1.5h-3zM1248 962h3v1.5h-3zM1270 985h3v1.5h-3zM1278 970h3v1.5h-3zM1282 974h3v1.5h-3zM1270 961h3v1.5h-3zM1257 945h3v1.5h-3zM1248 982h3v1.5h-3zM1259 937h3v1.5h-3zM1266 997h3v1.5h-3zM1258 957h3v1.5h-3zM1277 992h3v1.5h-3zM1276 972h3v1.5h-3zM1266 970h3v1.5h-3zM1263 930h3v1.5h-3zM1281 935h3v1.5h-3zM1274 950h3v1.5h-3zM1253 997h3v1.5h-3zM1277 952h3v1.5h-3zM1270 977h3v1.5h-3zM1257 935h3v1.5h-3zM1267 998h3v1.5h-3zM1260 975h3v1.5h-3zM1250 931h3v1.5h-3zM1280 942h3v1.5h-3zM1248 970h3v1.5h-3zM1252 948h3v1.5h-3zM1277 944h3v1.5h-3zM1276 991h3v1.5h-3zM1243 1090h3v1.5h-3zM1277 1019h3v1.5h-3zM1264 1078h3v1.5h-3zM1278 1088h3v1.5h-3zM1256 1095h3v1.5h-3zM1283 1062h3v1.5h-3zM1274 1022h3v1.5h-3zM1266 1001h3v1.5h-3zM1274 1008h3v1.5h-3zM1282 1090h3v1.5h-3zM1273 1079h3v1.5h-3zM1256 1069h3v1.5h-3zM1283 1092h3v1.5h-3zM1260 1087h3v1.5h-3zM1283 1054h3v1.5h-3zM1271 1051h3v1.5h-3zM1274 1069h3v1.5h-3zM1259 1028h3v1.5h-3zM1271 1012h3v1.5h-3zM1255 1016h3v1.5h-3zM1273 1046h3v1.5h-3zM1259 1047h3v1.5h-3zM1246 1089h3v1.5h-3zM1255 1087h3v1.5h-3zM1244 1031h3v1.5h-3zM1272 1042h3v1.5h-3zM1251 1030h3v1.5h-3zM1276 1041h3v1.5h-3zM1252 1047h3v1.5h-3zM1259 1075h3v1.5h-3zM1249 1015h3v1.5h-3zM1268 1007h3v1.5h-3zM1250 1076h3v1.5h-3zM1263 1092h3v1.5h-3zM1255 1049h3v1.5h-3zM1262 1010h3v1.5h-3zM1266 1039h3v1.5h-3zM1266 1023h3v1.5h-3zM1258 1095h3v1.5h-3zM1283 1023h3v1.5h-3zM1248 1088h3v1.5h-3zM1252 1037h3v1.5h-3zM1248 1094h3v1.5h-3zM1263 1095h3v1.5h-3zM1253 1065h3v1.5h-3zM1251 1095h3v1.5h-3zM1253 1078h3v1.5h-3zM1256 1062h3v1.5h-3zM1257 1070h3v1.5h-3zM1243 1018h3v1.5h-3zM1273 1054h3v1.5h-3zM1243 1079h3v1.5h-3zM1279 1058h3v1.5h-3zM1251 1020h3v1.5h-3zM1279 1088h3v1.5h-3zM1263 1047h3v1.5h-3zM1247 1071h3v1.5h-3zM1268 1036h3v1.5h-3zM1268 1041h3v1.5h-3zM1258 1091h3v1.5h-3zM1243 1018h3v1.5h-3zM1278 1010h3v1.5h-3zM1246 1025h3v1.5h-3zM1250 1068h3v1.5h-3zM1251 1015h3v1.5h-3zM1276 1018h3v1.5h-3zM1258 1007h3v1.5h-3zM1253 1046h3v1.5h-3zM1270 1078h3v1.5h-3zM1258 1089h3v1.5h-3zM1275 1083h3v1.5h-3zM1248 1075h3v1.5h-3zM1269 1039h3v1.5h-3zM1264 1016h3v1.5h-3zM1273 1081h3v1.5h-3zM1264 1084h3v1.5h-3zM1252 1086h3v1.5h-3zM1246 1068h3v1.5h-3zM1279 1037h3v1.5h-3zM1246 1080h3v1.5h-3zM1267 1050h3v1.5h-3zM1244 1090h3v1.5h-3zM1266 1043h3v1.5h-3zM1246 1025h3v1.5h-3zM1252 1044h3v1.5h-3zM1264 1069h3v1.5h-3zM1281 1064h3v1.5h-3zM1260 1049h3v1.5h-3zM1277 1001h3v1.5h-3zM1274 1050h3v1.5h-3zM1272 1039h3v1.5h-3zM1282 1003h3v1.5h-3zM1274 1080h3v1.5h-3zM1266 1059h3v1.5h-3zM1252 1024h3v1.5h-3zM1252 1032h3v1.5h-3zM1263 1061h3v1.5h-3zM1271 1030h3v1.5h-3zM1283 999h3v1.5h-3zM1275 1076h3v1.5h-3zM1270 1054h3v1.5h-3zM1281 1059h3v1.5h-3zM1257 1094h3v1.5h-3zM1262 1050h3v1.5h-3zM1255 1089h3v1.5h-3zM1262 1091h3v1.5h-3zM1250 1059h3v1.5h-3zM1257 1053h3v1.5h-3zM1264 1064h3v1.5h-3zM1248 1094h3v1.5h-3zM1265 1003h3v1.5h-3zM1254 1068h3v1.5h-3zM1256 1028h3v1.5h-3zM1263 1022h3v1.5h-3zM1243 1087h3v1.5h-3zM1251 1066h3v1.5h-3zM1259 1065h3v1.5h-3zM1282 1059h3v1.5h-3zM1266 1003h3v1.5h-3zM1269 1044h3v1.5h-3zM1276 1069h3v1.5h-3zM1244 1004h3v1.5h-3zM1264 1045h3v1.5h-3zM1245 1028h3v1.5h-3zM1258 1039h3v1.5h-3zM1254 1009h3v1.5h-3zM1258 1075h3v1.5h-3zM1279 1079h3v1.5h-3zM1254 1055h3v1.5h-3zM1283 1088h3v1.5h-3zM1251 1022h3v1.5h-3zM1246 1062h3v1.5h-3zM1275 1031h3v1.5h-3zM1275 1088h3v1.5h-3zM1279 1067h3v1.5h-3zM1276 1056h3v1.5h-3zM1279 1056h3v1.5h-3zM1253 1085h3v1.5h-3zM1263 1093h3v1.5h-3zM1249 1014h3v1.5h-3zM1266 1015h3v1.5h-3zM1249 1055h3v1.5h-3zM1262 1089h3v1.5h-3zM1253 1008h3v1.5h-3zM1272 1053h3v1.5h-3zM1267 1015h3v1.5h-3zM1282 1044h3v1.5h-3zM1245 1014h3v1.5h-3zM1249 1078h3v1.5h-3zM1248 1052h3v1.5h-3zM1266 1057h3v1.5h-3zM1262 1086h3v1.5h-3zM1272 1050h3v1.5h-3zM1255 1018h3v1.5h-3zM1281 1008h3v1.5h-3zM1283 1091h3v1.5h-3zM1258 1058h3v1.5h-3zM1253 1028h3v1.5h-3zM1280 1086h3v1.5h-3zM1263 1003h3v1.5h-3zM1279 1058h3v1.5h-3zM1247 1058h3v1.5h-3zM1264 1023h3v1.5h-3zM1250 1074h3v1.5h-3zM1283 1095h3v1.5h-3zM1268 1090h3v1.5h-3zM1273 1061h3v1.5h-3zM1280 1079h3v1.5h-3zM1278 1079h3v1.5h-3zM1244 1090h3v1.5h-3zM1246 1064h3v1.5h-3zM1282 1068h3v1.5h-3zM1272 1094h3v1.5h-3zM1264 1049h3v1.5h-3zM1247 1045h3v1.5h-3zM1261 1070h3v1.5h-3zM1277 1034h3v1.5h-3zM1247 1089h3v1.5h-3zM1245 1076h3v1.5h-3zM1269 1003h3v1.5h-3zM1282 1015h3v1.5h-3zM1248 1023h3v1.5h-3zM1274 1056h3v1.5h-3zM1283 1043h3v1.5h-3zM1247 1080h3v1.5h-3zM1248 1042h3v1.5h-3zM1268 1015h3v1.5h-3zM1243 1095h3v1.5h-3zM1282 1076h3v1.5h-3zM1253 1014h3v1.5h-3zM1247 1023h3v1.5h-3zM1279 1047h3v1.5h-3zM1267 1095h3v1.5h-3zM1267 1042h3v1.5h-3zM1274 1052h3v1.5h-3zM1247 1079h3v1.5h-3zM1269 1091h3v1.5h-3zM1247 1077h3v1.5h-3zM1275 1049h3v1.5h-3zM1257 1003h3v1.5h-3zM1266 1078h3v1.5h-3zM1266 1016h3v1.5h-3zM1258 1060h3v1.5h-3zM1266 1001h3v1.5h-3zM1269 1083h3v1.5h-3zM1266 1071h3v1.5h-3zM1262 1031h3v1.5h-3zM1243 1053h3v1.5h-3zM1255 1043h3v1.5h-3zM1276 1057h3v1.5h-3zM1270 1108h3v1.5h-3zM1257 1104h3v1.5h-3zM1267 1109h3v1.5h-3zM1275 1104h3v1.5h-3zM1260 1109h3v1.5h-3zM1278 1097h3v1.5h-3zM1281 1109h3v1.5h-3zM1250 1102h3v1.5h-3zM1248 1098h3v1.5h-3zM1272 1107h3v1.5h-3zM1263 1101h3v1.5h-3zM1253 1107h3v1.5h-3zM1276 1101h3v1.5h-3zM1269 1112h3v1.5h-3zM1255 1109h3v1.5h-3zM1249 1102h3v1.5h-3zM1268 1097h3v1.5h-3zM1267 1097h3v1.5h-3zM1264 1104h3v1.5h-3zM1258 1105h3v1.5h-3zM1281 1104h3v1.5h-3zM1248 1107h3v1.5h-3zM1255 1102h3v1.5h-3zM1266 1105h3v1.5h-3zM1281 1099h3v1.5h-3zM1251 1113h3v1.5h-3zM1273 1102h3v1.5h-3zM1271 1104h3v1.5h-3zM1249 1105h3v1.5h-3zM1278 1102h3v1.5h-3zM1249 1111h3v1.5h-3zM1280 1103h3v1.5h-3zM1253 1100h3v1.5h-3zM1281 1098h3v1.5h-3zM1271 1099h3v1.5h-3zM1251 1105h3v1.5h-3zM1277 1107h3v1.5h-3zM1253 1098h3v1.5h-3zM1273 1114h3v1.5h-3zM1250 1103h3v1.5h-3zM1282 1102h3v1.5h-3zM1279 1112h3v1.5h-3zM1268 1110h3v1.5h-3zM1259 1111h3v1.5h-3zM1264 1113h3v1.5h-3zM1271 1101h3v1.5h-3zM1280 1099h3v1.5h-3zM1250 1098h3v1.5h-3zM1267 1096h3v1.5h-3zM1265 1112h3v1.5h-3zM1273 1110h3v1.5h-3zM1283 1103h3v1.5h-3zM1280 1104h3v1.5h-3zM1259 1101h3v1.5h-3zM1273 1105h3v1.5h-3zM1257 1106h3v1.5h-3zM1273 1109h3v1.5h-3zM1253 1104h3v1.5h-3zM1271 1113h3v1.5h-3zM1257 1096h3v1.5h-3zM1257 1099h3v1.5h-3zM1259 1112h3v1.5h-3zM1265 1097h3v1.5h-3zM1275 1113h3v1.5h-3zM1273 1102h3v1.5h-3zM1265 1101h3v1.5h-3zM1266 1110h3v1.5h-3zM1273 1111h3v1.5h-3zM1259 1098h3v1.5h-3zM1268 1104h3v1.5h-3zM1273 1104h3v1.5h-3zM1261 1103h3v1.5h-3zM1248 1107h3v1.5h-3zM1249 1095h3v1.5h-3zM1280 1101h3v1.5h-3zM1253 1098h3v1.5h-3zM1258 1099h3v1.5h-3zM1271 1102h3v1.5h-3zM1274 1108h3v1.5h-3zM1278 1103h3v1.5h-3zM1275 1098h3v1.5h-3zM1257 1106h3v1.5h-3zM1261 1112h3v1.5h-3zM1279 1101h3v1.5h-3zM1265 1103h3v1.5h-3zM1279 1113h3v1.5h-3zM1260 1101h3v1.5h-3zM1267 1104h3v1.5h-3zM1257 1109h3v1.5h-3zM1272 1107h3v1.5h-3zM1281 1097h3v1.5h-3zM1282 1108h3v1.5h-3zM1266 1112h3v1.5h-3zM1260 1112h3v1.5h-3zM1266 1096h3v1.5h-3zM1275 1107h3v1.5h-3zM1257 1096h3v1.5h-3zM1249 1098h3v1.5h-3zM1278 1113h3v1.5h-3zM1282 1101h3v1.5h-3zM1262 1105h3v1.5h-3zM1269 1104h3v1.5h-3zM1279 1097h3v1.5h-3zM1259 1114h3v1.5h-3zM1276 1101h3v1.5h-3zM1271 1112h3v1.5h-3zM1250 1097h3v1.5h-3zM1261 1105h3v1.5h-3zM1283 1110h3v1.5h-3zM1270 1113h3v1.5h-3zM1268 1100h3v1.5h-3zM1253 1099h3v1.5h-3zM1282 1098h3v1.5h-3zM1276 1096h3v1.5h-3zM1273 1103h3v1.5h-3zM1277 1099h3v1.5h-3zM1270 1101h3v1.5h-3zM1254 1107h3v1.5h-3zM1259 1098h3v1.5h-3zM1276 1108h3v1.5h-3zM1283 1113h3v1.5h-3zM1250 1107h3v1.5h-3zM1250 1096h3v1.5h-3zM1260 1106h3v1.5h-3zM1278 1103h3v1.5h-3zM1270 1105h3v1.5h-3zM1264 1096h3v1.5h-3zM1257 1104h3v1.5h-3zM1265 1111h3v1.5h-3zM1253 1104h3v1.5h-3zM1276 1105h3v1.5h-3zM1250 1096h3v1.5h-3zM1252 1097h3v1.5h-3zM1249 1101h3v1.5h-3zM1253 1109h3v1.5h-3zM1263 1099h3v1.5h-3zM1263 1106h3v1.5h-3zM1262 1104h3v1.5h-3zM1258 1096h3v1.5h-3zM1254 1111h3v1.5h-3zM1267 1107h3v1.5h-3zM1273 1113h3v1.5h-3zM1272 1107h3v1.5h-3zM1281 1108h3v1.5h-3zM1263 1107h3v1.5h-3zM1267 1108h3v1.5h-3zM1272 1106h3v1.5h-3zM1273 1108h3v1.5h-3zM1264 1103h3v1.5h-3zM1273 1101h3v1.5h-3zM1263 1112h3v1.5h-3zM1252 1111h3v1.5h-3zM1254 1110h3v1.5h-3zM1271 1107h3v1.5h-3zM1280 1109h3v1.5h-3zM1256 1110h3v1.5h-3zM1253 1101h3v1.5h-3zM1268 1109h3v1.5h-3zM1277 1101h3v1.5h-3zM1263 1102h3v1.5h-3zM1271 1105h3v1.5h-3zM1251 1107h3v1.5h-3zM1282 1106h3v1.5h-3zM1271 1112h3v1.5h-3zM1275 1098h3v1.5h-3zM1261 1106h3v1.5h-3zM1266 1109h3v1.5h-3zM1255 1111h3v1.5h-3zM1272 1104h3v1.5h-3z" fill="#000"/>
<polygon points="130,1117 130,1109.5 136,1108.0 142,1108.5 148,1111.5 150,1114.0 165,1113.5 180,1114.3 184,1111.5 203,1111.1 205,1110.0 233,1110.2 235,1115.0 245,1115.0 247,1109.0 250,1112.0 270,1112.5 285,1113.0 290,1115 314,1115 319,1113.5 324,1111.5 327,1109.0 330,1107.5 333,1104.5 337,1101.5 342,1099.5 345.6,1098.3 350,1100.5 353,1102.5 356,1105.5 360,1109.0 364,1111.5 368,1114.0 377,1113.5 381,1113.5 428,1113.5 432,1115 456,1115 460,1113.9 488,1113.0 490,1111.1 500,1111.1 503,1114.5 525,1114.5 527,1113.0 543,1113.0 546,1109.3 570,1109.3 573,1114.3 596,1114.1 599,1112.0 640,1112.0 643,1115.0 650,1115 651,1110 655,1108.5 665,1106 708,1105 708.5,1117" fill="#111"/>
<polygon points="708,1112.6 813,1113.8 813,1115.0 708,1114.0" fill="#111"/>
<polygon points="813.9,1117 814,1111 817.8,1108.5 823.5,1108.5 825,1106 837,1106 837.5,1100 839.5,1100 840,1107.5 846.3,1107.5 846.8,1105.5 848.6,1105.5 849,1109 855,1109 855,1111.5 859,1111.5 859.5,1100 866.5,1100 867,1109.5 874,1111 876,1117" fill="#111"/>
<polygon points="937,1117 939,1103 946,1102 952,1103 958,1105 965,1105 975,1104 990,1105 1005,1107 1020,1109 1040,1109 1060,1109 1070,1110 1075,1112 1077,1117" fill="#111"/>
<polyline points="1111,682.5 1116,680 1124,678.5 1134,677.5 1143,676.5" fill="none" stroke="#000" stroke-width="2.4"/><polyline points="1180,678.5 1200,678 1227,678" fill="none" stroke="#000" stroke-width="2.6"/>

<rect x="178" y="956.3" width="5" height="5" fill="#000"/>
<circle cx="180.8" cy="1004.5" r="12" fill="#a09fa3" stroke="#000" stroke-width="2.9"/>
<circle cx="180.8" cy="1050.5" r="11.8" fill="none" stroke="#ed2024" stroke-width="2.8"/>
<g font-family='"Liberation Sans", sans-serif' fill="#231f20">
<text x="14.1" y="652" font-size="28.5" font-weight="bold" >C</text>
<text x="99.3" y="1119.5" font-size="28" text-anchor="end" >0</text>
<text x="97.6" y="1023.5" font-size="28" text-anchor="end" textLength="35.5" lengthAdjust="spacingAndGlyphs" >0.1</text>
<text x="99.3" y="922.0" font-size="28" text-anchor="end" textLength="37.6" lengthAdjust="spacingAndGlyphs" >0.2</text>
<text x="99.3" y="820.4" font-size="28" text-anchor="end" textLength="37.6" lengthAdjust="spacingAndGlyphs" >0.3</text>
<text x="99.3" y="718.9" font-size="28" text-anchor="end" textLength="37.6" lengthAdjust="spacingAndGlyphs" >0.4</text>
<text x="216.5" y="1140.8" font-size="25" text-anchor="middle" textLength="97.5" lengthAdjust="spacingAndGlyphs" >08/08/20</text>
<text x="470.7" y="1140.8" font-size="25" text-anchor="middle" textLength="97.5" lengthAdjust="spacingAndGlyphs" >27/09/20</text>
<text x="725.9" y="1140.8" font-size="25" text-anchor="middle" textLength="97.5" lengthAdjust="spacingAndGlyphs" >16/11/20</text>
<text x="979.2" y="1140.8" font-size="25" text-anchor="middle" textLength="97.5" lengthAdjust="spacingAndGlyphs" >01/05/21</text>
<text x="1234" y="1140.8" font-size="25" text-anchor="middle" textLength="97.5" lengthAdjust="spacingAndGlyphs" >02/24/21</text>
<text x="721.2" y="1179" font-size="33" text-anchor="middle" textLength="252" lengthAdjust="spacingAndGlyphs" >date (dd/mm/yy)</text>
<text x="1327" y="667.2" font-size="25" fill="#ed2024" textLength="31.8" lengthAdjust="spacingAndGlyphs" >0.1</text>
<text x="1328.3" y="740.0" font-size="25" fill="#ed2024" >0</text>
<text x="1327" y="818.0" font-size="25" fill="#ed2024" textLength="39.6" lengthAdjust="spacingAndGlyphs" >-0.1</text>
<text x="1327" y="893.0" font-size="25" fill="#ed2024" >-0.2</text>
<text x="1327" y="971.2" font-size="25" fill="#ed2024" >-0.3</text>
<text x="1327" y="1045.5" font-size="25" fill="#ed2024" >-0.4</text>
<text x="1327" y="1122.3" font-size="25" fill="#ed2024" >-0.5</text>
<g transform="translate(1395.2,996) rotate(-90)"><text x="0" y="0" font-size="32" fill="#ed2024">pH differences</text></g>
<g transform="translate(33.3,992.6) rotate(-90)"><text x="0" y="0" font-size="31.5" textLength="227.5" lengthAdjust="spacingAndGlyphs">pH offset added</text></g>
<text x="206.5" y="967.6" font-size="29" textLength="121" lengthAdjust="spacingAndGlyphs" >pH offset</text>
<text x="206.5" y="1012.8" font-size="30" textLength="37.5" lengthAdjust="spacingAndGlyphs" >pH</text>
<text x="246.2" y="1023.4" font-size="17.6" textLength="74.5" lengthAdjust="spacingAndGlyphs" >DISCRETE</text>
<text x="327.5" y="1012.8" font-size="30" >-</text>
<text x="344.2" y="1012.8" font-size="30" textLength="38.5" lengthAdjust="spacingAndGlyphs" >pH</text>
<text x="383.3" y="1023.5999999999999" font-size="17.6" textLength="115" lengthAdjust="spacingAndGlyphs" >SURCOM, RAW</text>
<text x="206.5" y="1057.4" font-size="30" textLength="37.5" lengthAdjust="spacingAndGlyphs" >pH</text>
<text x="246.2" y="1068.0" font-size="17.6" textLength="74.5" lengthAdjust="spacingAndGlyphs" >DISCRETE</text>
<text x="327.5" y="1057.4" font-size="30" >-</text>
<text x="344.2" y="1057.4" font-size="30" textLength="38.5" lengthAdjust="spacingAndGlyphs" >pH</text>
<text x="383.3" y="1068.2" font-size="17.6" textLength="174.5" lengthAdjust="spacingAndGlyphs" >SURCOM, CALIBRATED</text>
</g>
</svg></body></html>
